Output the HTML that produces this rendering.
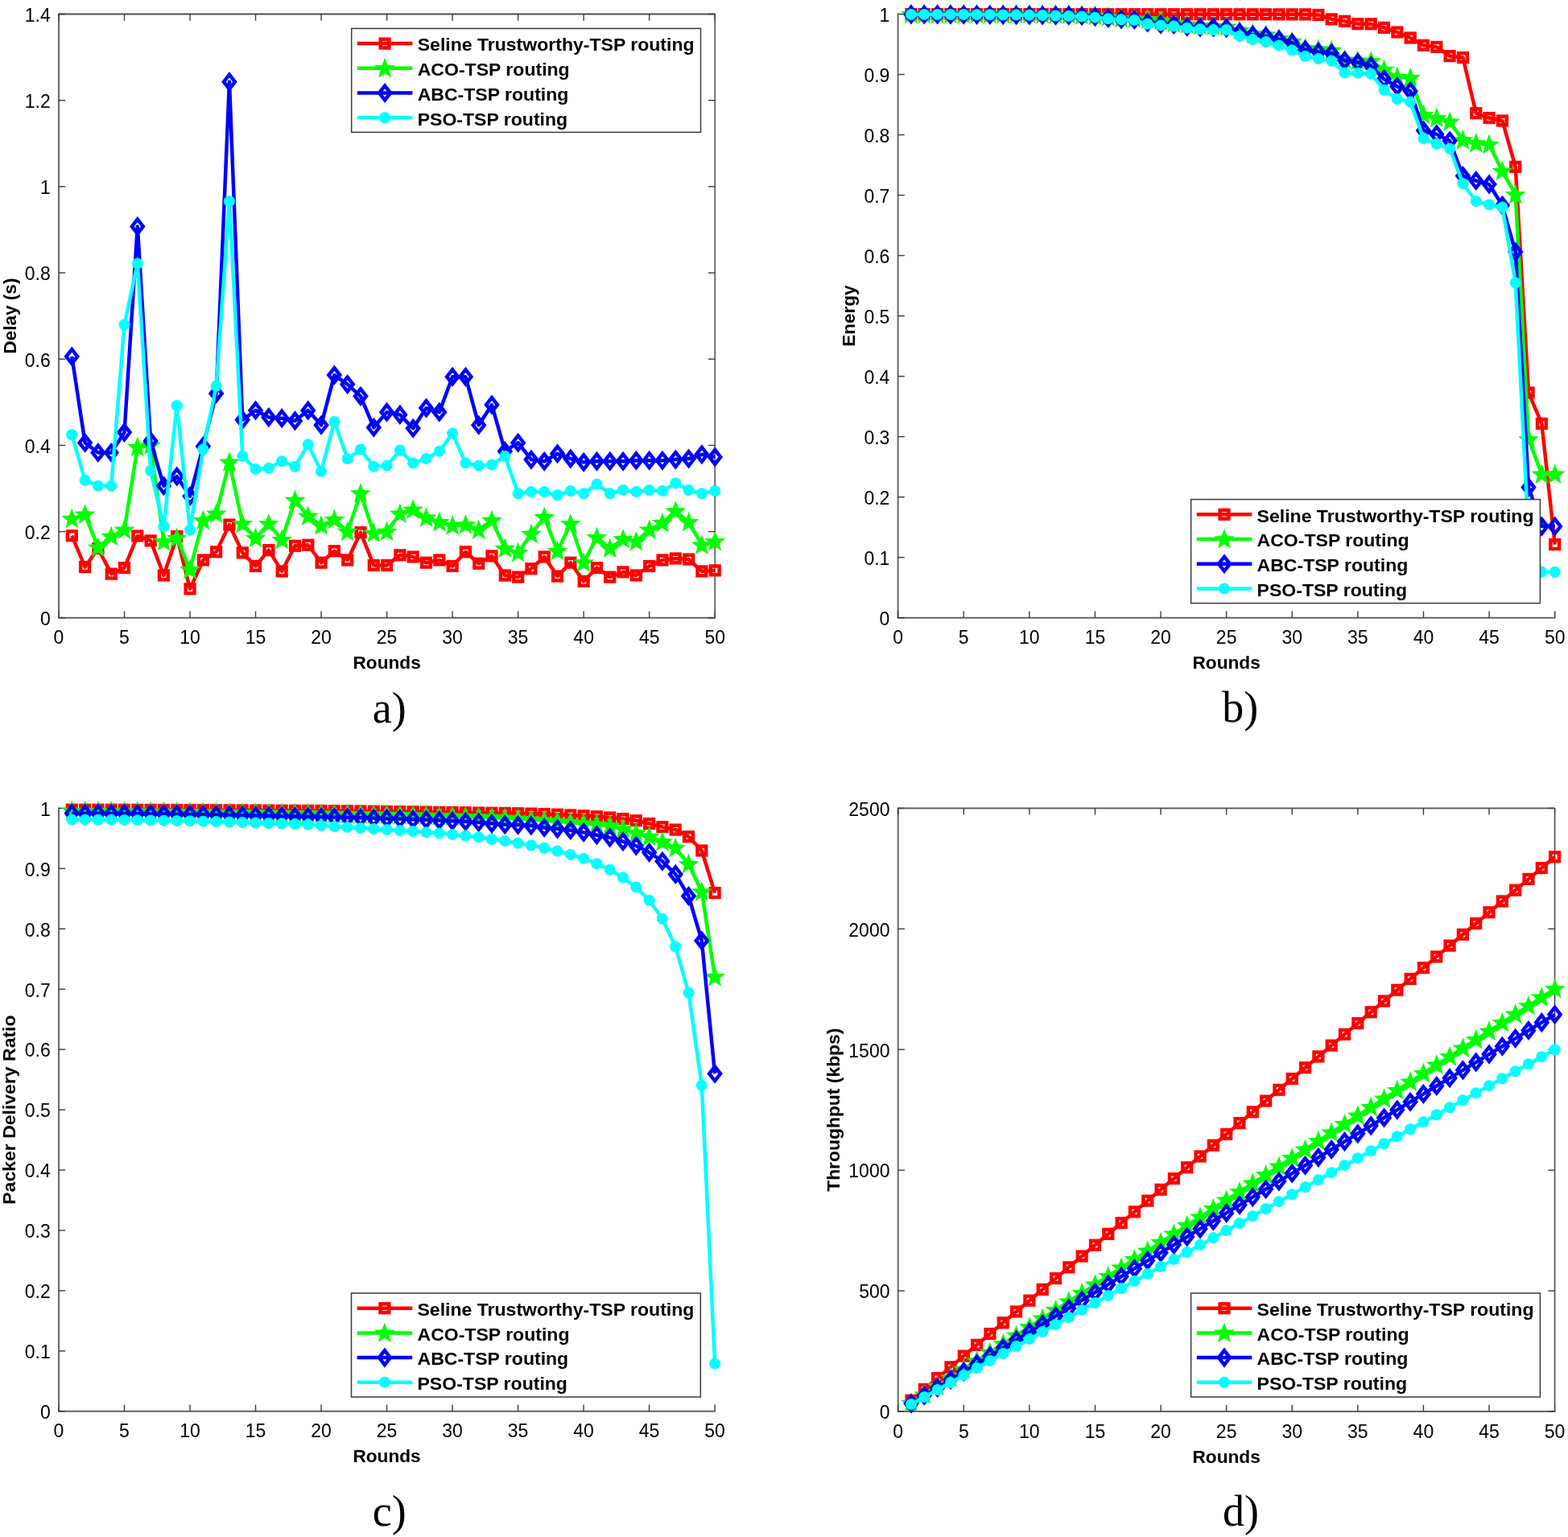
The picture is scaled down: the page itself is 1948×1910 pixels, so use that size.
<!DOCTYPE html>
<html><head><meta charset="utf-8"><title>Figure</title>
<style>
html,body{margin:0;padding:0;background:#fff;overflow:hidden;}
svg{display:block;}
.tk{font-family:"Liberation Sans",Arial,sans-serif;font-size:23px;fill:#000;}
.lb{font-family:"Liberation Sans",Arial,sans-serif;font-size:22px;font-weight:bold;fill:#000;}
.lg{font-family:"Liberation Sans",Arial,sans-serif;font-size:22px;font-weight:bold;fill:#000;}
.sub{font-family:"Liberation Serif","Times New Roman",serif;font-size:54px;fill:#000;}
</style></head><body>
<svg width="1948" height="1910" viewBox="0 0 1948 1910">
<rect width="1948" height="1910" fill="#fff"/>
<g id="pa"><path d="M73.0 16.6V767.8" fill="none" stroke="#666" stroke-width="2"/><path d="M72.0 767.8H888.9000000000001" fill="none" stroke="#626262" stroke-width="2"/><path d="M73.0 17.5H888.2" fill="none" stroke="#505050" stroke-width="1.8"/><path d="M888.2 17.5V767.8" fill="none" stroke="#333" stroke-width="1.3"/><path d="M73.00 767.8v-8.2" stroke="#3a3a3a" stroke-width="1.4"/><path d="M73.00 17.5v8.2" stroke="#3a3a3a" stroke-width="1.4"/><text x="73.00" y="800.40" class="tk" text-anchor="middle">0</text><path d="M154.52 767.8v-8.2" stroke="#3a3a3a" stroke-width="1.4"/><path d="M154.52 17.5v8.2" stroke="#3a3a3a" stroke-width="1.4"/><text x="154.52" y="800.40" class="tk" text-anchor="middle">5</text><path d="M236.04 767.8v-8.2" stroke="#3a3a3a" stroke-width="1.4"/><path d="M236.04 17.5v8.2" stroke="#3a3a3a" stroke-width="1.4"/><text x="236.04" y="800.40" class="tk" text-anchor="middle">10</text><path d="M317.56 767.8v-8.2" stroke="#3a3a3a" stroke-width="1.4"/><path d="M317.56 17.5v8.2" stroke="#3a3a3a" stroke-width="1.4"/><text x="317.56" y="800.40" class="tk" text-anchor="middle">15</text><path d="M399.08 767.8v-8.2" stroke="#3a3a3a" stroke-width="1.4"/><path d="M399.08 17.5v8.2" stroke="#3a3a3a" stroke-width="1.4"/><text x="399.08" y="800.40" class="tk" text-anchor="middle">20</text><path d="M480.60 767.8v-8.2" stroke="#3a3a3a" stroke-width="1.4"/><path d="M480.60 17.5v8.2" stroke="#3a3a3a" stroke-width="1.4"/><text x="480.60" y="800.40" class="tk" text-anchor="middle">25</text><path d="M562.12 767.8v-8.2" stroke="#3a3a3a" stroke-width="1.4"/><path d="M562.12 17.5v8.2" stroke="#3a3a3a" stroke-width="1.4"/><text x="562.12" y="800.40" class="tk" text-anchor="middle">30</text><path d="M643.64 767.8v-8.2" stroke="#3a3a3a" stroke-width="1.4"/><path d="M643.64 17.5v8.2" stroke="#3a3a3a" stroke-width="1.4"/><text x="643.64" y="800.40" class="tk" text-anchor="middle">35</text><path d="M725.16 767.8v-8.2" stroke="#3a3a3a" stroke-width="1.4"/><path d="M725.16 17.5v8.2" stroke="#3a3a3a" stroke-width="1.4"/><text x="725.16" y="800.40" class="tk" text-anchor="middle">40</text><path d="M806.68 767.8v-8.2" stroke="#3a3a3a" stroke-width="1.4"/><path d="M806.68 17.5v8.2" stroke="#3a3a3a" stroke-width="1.4"/><text x="806.68" y="800.40" class="tk" text-anchor="middle">45</text><path d="M888.20 767.8v-8.2" stroke="#3a3a3a" stroke-width="1.4"/><path d="M888.20 17.5v8.2" stroke="#3a3a3a" stroke-width="1.4"/><text x="888.20" y="800.40" class="tk" text-anchor="middle">50</text><path d="M73.0 767.80h8.2" stroke="#3a3a3a" stroke-width="1.4"/><path d="M888.2 767.80h-8.2" stroke="#3a3a3a" stroke-width="1.4"/><text x="62.80" y="777.10" class="tk" text-anchor="end">0</text><path d="M73.0 660.61h8.2" stroke="#3a3a3a" stroke-width="1.4"/><path d="M888.2 660.61h-8.2" stroke="#3a3a3a" stroke-width="1.4"/><text x="62.80" y="669.91" class="tk" text-anchor="end">0.2</text><path d="M73.0 553.43h8.2" stroke="#3a3a3a" stroke-width="1.4"/><path d="M888.2 553.43h-8.2" stroke="#3a3a3a" stroke-width="1.4"/><text x="62.80" y="562.73" class="tk" text-anchor="end">0.4</text><path d="M73.0 446.24h8.2" stroke="#3a3a3a" stroke-width="1.4"/><path d="M888.2 446.24h-8.2" stroke="#3a3a3a" stroke-width="1.4"/><text x="62.80" y="455.54" class="tk" text-anchor="end">0.6</text><path d="M73.0 339.06h8.2" stroke="#3a3a3a" stroke-width="1.4"/><path d="M888.2 339.06h-8.2" stroke="#3a3a3a" stroke-width="1.4"/><text x="62.80" y="348.36" class="tk" text-anchor="end">0.8</text><path d="M73.0 231.87h8.2" stroke="#3a3a3a" stroke-width="1.4"/><path d="M888.2 231.87h-8.2" stroke="#3a3a3a" stroke-width="1.4"/><text x="62.80" y="241.17" class="tk" text-anchor="end">1</text><path d="M73.0 124.69h8.2" stroke="#3a3a3a" stroke-width="1.4"/><path d="M888.2 124.69h-8.2" stroke="#3a3a3a" stroke-width="1.4"/><text x="62.80" y="133.99" class="tk" text-anchor="end">1.2</text><path d="M73.0 17.50h8.2" stroke="#3a3a3a" stroke-width="1.4"/><path d="M888.2 17.50h-8.2" stroke="#3a3a3a" stroke-width="1.4"/><text x="62.80" y="26.80" class="tk" text-anchor="end">1.4</text><text transform="translate(480.60 831.30) scale(1.03 1)" class="lb" text-anchor="middle">Rounds</text><text transform="translate(19.50 392.65)  rotate(-90) scale(1.028 1)" class="lb" text-anchor="middle">Delay (s)</text><text x="483.8" y="897.9" class="sub" text-anchor="middle">a)</text><path d="M89.30 665.71L105.61 704.56L121.91 681.52L138.22 713.14L154.52 705.63L170.82 665.97L187.13 671.87L203.43 715.01L219.74 666.51L236.04 731.89L252.34 695.99L268.65 685.80L284.95 652.04L301.26 686.87L317.56 703.49L333.86 683.66L350.17 709.92L366.47 678.30L382.78 677.23L399.08 699.20L415.38 684.73L431.69 695.99L447.99 661.69L464.30 702.42L480.60 702.42L496.90 689.82L513.21 691.97L529.51 699.20L545.82 695.99L562.12 703.49L578.42 685.80L594.73 700.27L611.03 690.89L627.34 715.01L643.64 717.10L659.94 706.70L676.25 691.97L692.55 716.08L708.86 699.20L725.16 722.41L741.46 705.63L757.77 717.10L774.07 710.83L790.38 715.01L806.68 703.49L822.98 695.99L839.29 694.00L855.59 695.07L871.90 709.92L888.20 708.85" fill="none" stroke="#ff0000" stroke-width="4.5" stroke-linejoin="round"/><rect x="83.95" y="660.36" width="10.70" height="10.70" fill="none" stroke="#ff0000" stroke-width="4.5"/><rect x="100.26" y="699.21" width="10.70" height="10.70" fill="none" stroke="#ff0000" stroke-width="4.5"/><rect x="116.56" y="676.17" width="10.70" height="10.70" fill="none" stroke="#ff0000" stroke-width="4.5"/><rect x="132.87" y="707.79" width="10.70" height="10.70" fill="none" stroke="#ff0000" stroke-width="4.5"/><rect x="149.17" y="700.28" width="10.70" height="10.70" fill="none" stroke="#ff0000" stroke-width="4.5"/><rect x="165.47" y="660.62" width="10.70" height="10.70" fill="none" stroke="#ff0000" stroke-width="4.5"/><rect x="181.78" y="666.52" width="10.70" height="10.70" fill="none" stroke="#ff0000" stroke-width="4.5"/><rect x="198.08" y="709.66" width="10.70" height="10.70" fill="none" stroke="#ff0000" stroke-width="4.5"/><rect x="214.39" y="661.16" width="10.70" height="10.70" fill="none" stroke="#ff0000" stroke-width="4.5"/><rect x="230.69" y="726.54" width="10.70" height="10.70" fill="none" stroke="#ff0000" stroke-width="4.5"/><rect x="246.99" y="690.64" width="10.70" height="10.70" fill="none" stroke="#ff0000" stroke-width="4.5"/><rect x="263.30" y="680.45" width="10.70" height="10.70" fill="none" stroke="#ff0000" stroke-width="4.5"/><rect x="279.60" y="646.69" width="10.70" height="10.70" fill="none" stroke="#ff0000" stroke-width="4.5"/><rect x="295.91" y="681.52" width="10.70" height="10.70" fill="none" stroke="#ff0000" stroke-width="4.5"/><rect x="312.21" y="698.14" width="10.70" height="10.70" fill="none" stroke="#ff0000" stroke-width="4.5"/><rect x="328.51" y="678.31" width="10.70" height="10.70" fill="none" stroke="#ff0000" stroke-width="4.5"/><rect x="344.82" y="704.57" width="10.70" height="10.70" fill="none" stroke="#ff0000" stroke-width="4.5"/><rect x="361.12" y="672.95" width="10.70" height="10.70" fill="none" stroke="#ff0000" stroke-width="4.5"/><rect x="377.43" y="671.88" width="10.70" height="10.70" fill="none" stroke="#ff0000" stroke-width="4.5"/><rect x="393.73" y="693.85" width="10.70" height="10.70" fill="none" stroke="#ff0000" stroke-width="4.5"/><rect x="410.03" y="679.38" width="10.70" height="10.70" fill="none" stroke="#ff0000" stroke-width="4.5"/><rect x="426.34" y="690.64" width="10.70" height="10.70" fill="none" stroke="#ff0000" stroke-width="4.5"/><rect x="442.64" y="656.34" width="10.70" height="10.70" fill="none" stroke="#ff0000" stroke-width="4.5"/><rect x="458.95" y="697.07" width="10.70" height="10.70" fill="none" stroke="#ff0000" stroke-width="4.5"/><rect x="475.25" y="697.07" width="10.70" height="10.70" fill="none" stroke="#ff0000" stroke-width="4.5"/><rect x="491.55" y="684.47" width="10.70" height="10.70" fill="none" stroke="#ff0000" stroke-width="4.5"/><rect x="507.86" y="686.62" width="10.70" height="10.70" fill="none" stroke="#ff0000" stroke-width="4.5"/><rect x="524.16" y="693.85" width="10.70" height="10.70" fill="none" stroke="#ff0000" stroke-width="4.5"/><rect x="540.47" y="690.64" width="10.70" height="10.70" fill="none" stroke="#ff0000" stroke-width="4.5"/><rect x="556.77" y="698.14" width="10.70" height="10.70" fill="none" stroke="#ff0000" stroke-width="4.5"/><rect x="573.07" y="680.45" width="10.70" height="10.70" fill="none" stroke="#ff0000" stroke-width="4.5"/><rect x="589.38" y="694.92" width="10.70" height="10.70" fill="none" stroke="#ff0000" stroke-width="4.5"/><rect x="605.68" y="685.54" width="10.70" height="10.70" fill="none" stroke="#ff0000" stroke-width="4.5"/><rect x="621.99" y="709.66" width="10.70" height="10.70" fill="none" stroke="#ff0000" stroke-width="4.5"/><rect x="638.29" y="711.75" width="10.70" height="10.70" fill="none" stroke="#ff0000" stroke-width="4.5"/><rect x="654.59" y="701.35" width="10.70" height="10.70" fill="none" stroke="#ff0000" stroke-width="4.5"/><rect x="670.90" y="686.62" width="10.70" height="10.70" fill="none" stroke="#ff0000" stroke-width="4.5"/><rect x="687.20" y="710.73" width="10.70" height="10.70" fill="none" stroke="#ff0000" stroke-width="4.5"/><rect x="703.51" y="693.85" width="10.70" height="10.70" fill="none" stroke="#ff0000" stroke-width="4.5"/><rect x="719.81" y="717.06" width="10.70" height="10.70" fill="none" stroke="#ff0000" stroke-width="4.5"/><rect x="736.11" y="700.28" width="10.70" height="10.70" fill="none" stroke="#ff0000" stroke-width="4.5"/><rect x="752.42" y="711.75" width="10.70" height="10.70" fill="none" stroke="#ff0000" stroke-width="4.5"/><rect x="768.72" y="705.48" width="10.70" height="10.70" fill="none" stroke="#ff0000" stroke-width="4.5"/><rect x="785.03" y="709.66" width="10.70" height="10.70" fill="none" stroke="#ff0000" stroke-width="4.5"/><rect x="801.33" y="698.14" width="10.70" height="10.70" fill="none" stroke="#ff0000" stroke-width="4.5"/><rect x="817.63" y="690.64" width="10.70" height="10.70" fill="none" stroke="#ff0000" stroke-width="4.5"/><rect x="833.94" y="688.65" width="10.70" height="10.70" fill="none" stroke="#ff0000" stroke-width="4.5"/><rect x="850.24" y="689.72" width="10.70" height="10.70" fill="none" stroke="#ff0000" stroke-width="4.5"/><rect x="866.55" y="704.57" width="10.70" height="10.70" fill="none" stroke="#ff0000" stroke-width="4.5"/><rect x="882.85" y="703.50" width="10.70" height="10.70" fill="none" stroke="#ff0000" stroke-width="4.5"/><path d="M89.30 644.70L105.61 639.39L121.91 680.44L138.22 666.51L154.52 658.47L170.82 555.57L187.13 553.43L203.43 672.94L219.74 668.65L236.04 707.78L252.34 646.68L268.65 638.37L284.95 574.33L301.26 650.97L317.56 668.65L333.86 650.97L350.17 670.80L366.47 621.49L382.78 641.32L399.08 653.11L415.38 645.61L431.69 660.61L447.99 613.18L464.30 662.49L480.60 660.61L496.90 638.37L513.21 633.28L529.51 643.46L545.82 648.82L562.12 653.11L578.42 652.04L594.73 658.47L611.03 646.68L627.34 681.52L643.64 686.87L659.94 663.56L676.25 642.61L692.55 684.73L708.86 650.97L725.16 699.20L741.46 667.80L757.77 681.52L774.07 669.89L790.38 672.94L806.68 658.47L822.98 649.90L839.29 635.21L855.59 648.82L871.90 677.23L888.20 672.94" fill="none" stroke="#00ff00" stroke-width="4.5" stroke-linejoin="round"/><path d="M89.30 631.70L92.71 640.60L102.24 641.09L94.82 647.09L97.30 656.30L89.30 651.10L81.31 656.30L83.79 647.09L76.37 641.09L85.89 640.60Z" fill="#00ff00"/><path d="M105.61 626.39L109.02 635.30L118.54 635.79L111.12 641.78L113.60 650.99L105.61 645.79L97.61 650.99L100.09 641.78L92.67 635.79L102.20 635.30Z" fill="#00ff00"/><path d="M121.91 667.44L125.32 676.35L134.85 676.84L127.43 682.84L129.91 692.05L121.91 686.84L113.92 692.05L116.40 682.84L108.98 676.84L118.50 676.35Z" fill="#00ff00"/><path d="M138.22 653.51L141.63 662.42L151.15 662.91L143.73 668.90L146.21 678.11L138.22 672.91L130.22 678.11L132.70 668.90L125.28 662.91L134.81 662.42Z" fill="#00ff00"/><path d="M154.52 645.47L157.93 654.38L167.45 654.87L160.04 660.86L162.51 670.07L154.52 664.87L146.53 670.07L149.00 660.86L141.59 654.87L151.11 654.38Z" fill="#00ff00"/><path d="M170.82 542.57L174.23 551.48L183.76 551.97L176.34 557.96L178.82 567.17L170.82 561.97L162.83 567.17L165.31 557.96L157.89 551.97L167.41 551.48Z" fill="#00ff00"/><path d="M187.13 540.43L190.54 549.34L200.06 549.83L192.64 555.82L195.12 565.03L187.13 559.83L179.13 565.03L181.61 555.82L174.19 549.83L183.72 549.34Z" fill="#00ff00"/><path d="M203.43 659.94L206.84 668.85L216.37 669.34L208.95 675.33L211.43 684.54L203.43 679.34L195.44 684.54L197.92 675.33L190.50 669.34L200.02 668.85Z" fill="#00ff00"/><path d="M219.74 655.65L223.15 664.56L232.67 665.05L225.25 671.05L227.73 680.26L219.74 675.05L211.74 680.26L214.22 671.05L206.80 665.05L216.33 664.56Z" fill="#00ff00"/><path d="M236.04 694.78L239.45 703.68L248.97 704.17L241.56 710.17L244.03 719.38L236.04 714.18L228.05 719.38L230.52 710.17L223.11 704.17L232.63 703.68Z" fill="#00ff00"/><path d="M252.34 633.68L255.75 642.59L265.28 643.08L257.86 649.07L260.34 658.28L252.34 653.08L244.35 658.28L246.83 649.07L239.41 643.08L248.93 642.59Z" fill="#00ff00"/><path d="M268.65 625.37L272.06 634.28L281.58 634.77L274.16 640.77L276.64 649.98L268.65 644.77L260.65 649.98L263.13 640.77L255.71 634.77L265.24 634.28Z" fill="#00ff00"/><path d="M284.95 561.33L288.36 570.24L297.89 570.73L290.47 576.72L292.95 585.93L284.95 580.73L276.96 585.93L279.44 576.72L272.02 570.73L281.54 570.24Z" fill="#00ff00"/><path d="M301.26 637.97L304.67 646.88L314.19 647.36L306.77 653.36L309.25 662.57L301.26 657.37L293.26 662.57L295.74 653.36L288.32 647.36L297.85 646.88Z" fill="#00ff00"/><path d="M317.56 655.65L320.97 664.56L330.49 665.05L323.08 671.05L325.55 680.26L317.56 675.05L309.57 680.26L312.04 671.05L304.63 665.05L314.15 664.56Z" fill="#00ff00"/><path d="M333.86 637.97L337.27 646.88L346.80 647.36L339.38 653.36L341.86 662.57L333.86 657.37L325.87 662.57L328.35 653.36L320.93 647.36L330.45 646.88Z" fill="#00ff00"/><path d="M350.17 657.80L353.58 666.70L363.10 667.19L355.68 673.19L358.16 682.40L350.17 677.20L342.17 682.40L344.65 673.19L337.23 667.19L346.76 666.70Z" fill="#00ff00"/><path d="M366.47 608.49L369.88 617.40L379.41 617.89L371.99 623.88L374.47 633.09L366.47 627.89L358.48 633.09L360.96 623.88L353.54 617.89L363.06 617.40Z" fill="#00ff00"/><path d="M382.78 628.32L386.19 637.23L395.71 637.72L388.29 643.71L390.77 652.92L382.78 647.72L374.78 652.92L377.26 643.71L369.84 637.72L379.37 637.23Z" fill="#00ff00"/><path d="M399.08 640.11L402.49 649.02L412.01 649.51L404.60 655.50L407.07 664.71L399.08 659.51L391.09 664.71L393.56 655.50L386.15 649.51L395.67 649.02Z" fill="#00ff00"/><path d="M415.38 632.61L418.79 641.52L428.32 642.01L420.90 648.00L423.38 657.21L415.38 652.01L407.39 657.21L409.87 648.00L402.45 642.01L411.97 641.52Z" fill="#00ff00"/><path d="M431.69 647.61L435.10 656.52L444.62 657.01L437.20 663.01L439.68 672.22L431.69 667.01L423.69 672.22L426.17 663.01L418.75 657.01L428.28 656.52Z" fill="#00ff00"/><path d="M447.99 600.18L451.40 609.09L460.93 609.58L453.51 615.58L455.99 624.79L447.99 619.58L440.00 624.79L442.48 615.58L435.06 609.58L444.58 609.09Z" fill="#00ff00"/><path d="M464.30 649.49L467.71 658.40L477.23 658.89L469.81 664.88L472.29 674.09L464.30 668.89L456.30 674.09L458.78 664.88L451.36 658.89L460.89 658.40Z" fill="#00ff00"/><path d="M480.60 647.61L484.01 656.52L493.53 657.01L486.12 663.01L488.59 672.22L480.60 667.01L472.61 672.22L475.08 663.01L467.67 657.01L477.19 656.52Z" fill="#00ff00"/><path d="M496.90 625.37L500.31 634.28L509.84 634.77L502.42 640.77L504.90 649.98L496.90 644.77L488.91 649.98L491.39 640.77L483.97 634.77L493.49 634.28Z" fill="#00ff00"/><path d="M513.21 620.28L516.62 629.19L526.14 629.68L518.72 635.67L521.20 644.88L513.21 639.68L505.21 644.88L507.69 635.67L500.27 629.68L509.80 629.19Z" fill="#00ff00"/><path d="M529.51 630.46L532.92 639.37L542.45 639.86L535.03 645.86L537.51 655.07L529.51 649.86L521.52 655.07L524.00 645.86L516.58 639.86L526.10 639.37Z" fill="#00ff00"/><path d="M545.82 635.82L549.23 644.73L558.75 645.22L551.33 651.22L553.81 660.43L545.82 655.22L537.82 660.43L540.30 651.22L532.88 645.22L542.41 644.73Z" fill="#00ff00"/><path d="M562.12 640.11L565.53 649.02L575.05 649.51L567.64 655.50L570.11 664.71L562.12 659.51L554.13 664.71L556.60 655.50L549.19 649.51L558.71 649.02Z" fill="#00ff00"/><path d="M578.42 639.04L581.83 647.95L591.36 648.44L583.94 654.43L586.42 663.64L578.42 658.44L570.43 663.64L572.91 654.43L565.49 648.44L575.01 647.95Z" fill="#00ff00"/><path d="M594.73 645.47L598.14 654.38L607.66 654.87L600.24 660.86L602.72 670.07L594.73 664.87L586.73 670.07L589.21 660.86L581.79 654.87L591.32 654.38Z" fill="#00ff00"/><path d="M611.03 633.68L614.44 642.59L623.97 643.08L616.55 649.07L619.03 658.28L611.03 653.08L603.04 658.28L605.52 649.07L598.10 643.08L607.62 642.59Z" fill="#00ff00"/><path d="M627.34 668.52L630.75 677.42L640.27 677.91L632.85 683.91L635.33 693.12L627.34 687.92L619.34 693.12L621.82 683.91L614.40 677.91L623.93 677.42Z" fill="#00ff00"/><path d="M643.64 673.87L647.05 682.78L656.57 683.27L649.16 689.27L651.63 698.48L643.64 693.27L635.65 698.48L638.12 689.27L630.71 683.27L640.23 682.78Z" fill="#00ff00"/><path d="M659.94 650.56L663.35 659.47L672.88 659.96L665.46 665.95L667.94 675.16L659.94 669.96L651.95 675.16L654.43 665.95L647.01 659.96L656.53 659.47Z" fill="#00ff00"/><path d="M676.25 629.61L679.66 638.51L689.18 639.00L681.76 645.00L684.24 654.21L676.25 649.01L668.25 654.21L670.73 645.00L663.31 639.00L672.84 638.51Z" fill="#00ff00"/><path d="M692.55 671.73L695.96 680.64L705.49 681.13L698.07 687.12L700.55 696.33L692.55 691.13L684.56 696.33L687.04 687.12L679.62 681.13L689.14 680.64Z" fill="#00ff00"/><path d="M708.86 637.97L712.27 646.88L721.79 647.36L714.37 653.36L716.85 662.57L708.86 657.37L700.86 662.57L703.34 653.36L695.92 647.36L705.45 646.88Z" fill="#00ff00"/><path d="M725.16 686.20L728.57 695.11L738.09 695.60L730.68 701.59L733.15 710.80L725.16 705.60L717.17 710.80L719.64 701.59L712.23 695.60L721.75 695.11Z" fill="#00ff00"/><path d="M741.46 654.80L744.87 663.70L754.40 664.19L746.98 670.19L749.46 679.40L741.46 674.20L733.47 679.40L735.95 670.19L728.53 664.19L738.05 663.70Z" fill="#00ff00"/><path d="M757.77 668.52L761.18 677.42L770.70 677.91L763.28 683.91L765.76 693.12L757.77 687.92L749.77 693.12L752.25 683.91L744.83 677.91L754.36 677.42Z" fill="#00ff00"/><path d="M774.07 656.89L777.48 665.79L787.01 666.28L779.59 672.28L782.07 681.49L774.07 676.29L766.08 681.49L768.56 672.28L761.14 666.28L770.66 665.79Z" fill="#00ff00"/><path d="M790.38 659.94L793.79 668.85L803.31 669.34L795.89 675.33L798.37 684.54L790.38 679.34L782.38 684.54L784.86 675.33L777.44 669.34L786.97 668.85Z" fill="#00ff00"/><path d="M806.68 645.47L810.09 654.38L819.61 654.87L812.20 660.86L814.67 670.07L806.68 664.87L798.69 670.07L801.16 660.86L793.75 654.87L803.27 654.38Z" fill="#00ff00"/><path d="M822.98 636.90L826.39 645.80L835.92 646.29L828.50 652.29L830.98 661.50L822.98 656.30L814.99 661.50L817.47 652.29L810.05 646.29L819.57 645.80Z" fill="#00ff00"/><path d="M839.29 622.21L842.70 631.12L852.22 631.61L844.80 637.60L847.28 646.81L839.29 641.61L831.29 646.81L833.77 637.60L826.35 631.61L835.88 631.12Z" fill="#00ff00"/><path d="M855.59 635.82L859.00 644.73L868.53 645.22L861.11 651.22L863.59 660.43L855.59 655.22L847.60 660.43L850.08 651.22L842.66 645.22L852.18 644.73Z" fill="#00ff00"/><path d="M871.90 664.23L875.31 673.14L884.83 673.63L877.41 679.62L879.89 688.83L871.90 683.63L863.90 688.83L866.38 679.62L858.96 673.63L868.49 673.14Z" fill="#00ff00"/><path d="M888.20 659.94L891.61 668.85L901.13 669.34L893.72 675.33L896.19 684.54L888.20 679.34L880.21 684.54L882.68 675.33L875.27 669.34L884.79 668.85Z" fill="#00ff00"/><path d="M89.30 443.03L105.61 550.21L121.91 562.54L138.22 562.54L154.52 537.35L170.82 281.39L187.13 548.07L203.43 603.81L219.74 592.02L236.04 616.67L252.34 554.50L268.65 489.12L284.95 101.64L301.26 521.81L317.56 510.02L333.86 518.59L350.17 519.67L366.47 522.88L382.78 510.02L399.08 528.24L415.38 466.07L431.69 477.59L447.99 492.33L464.30 531.19L480.60 512.16L496.90 515.38L513.21 532.26L529.51 507.07L545.82 512.16L562.12 468.22L578.42 468.22L594.73 528.24L611.03 503.05L627.34 560.66L643.64 550.21L659.94 571.11L676.25 573.26L692.55 563.77L708.86 570.04L725.16 574.33L741.46 573.26L757.77 573.26L774.07 573.26L790.38 572.19L806.68 572.19L822.98 572.19L839.29 571.11L855.59 570.04L871.90 564.79L888.20 567.90" fill="none" stroke="#0000ff" stroke-width="4.5" stroke-linejoin="round"/><path d="M89.30 434.13L96.25 443.03L89.30 451.93L82.35 443.03Z" fill="none" stroke="#0000ff" stroke-width="4.5" stroke-miterlimit="10"/><path d="M105.61 541.31L112.56 550.21L105.61 559.11L98.66 550.21Z" fill="none" stroke="#0000ff" stroke-width="4.5" stroke-miterlimit="10"/><path d="M121.91 553.64L128.86 562.54L121.91 571.44L114.96 562.54Z" fill="none" stroke="#0000ff" stroke-width="4.5" stroke-miterlimit="10"/><path d="M138.22 553.64L145.17 562.54L138.22 571.44L131.27 562.54Z" fill="none" stroke="#0000ff" stroke-width="4.5" stroke-miterlimit="10"/><path d="M154.52 528.45L161.47 537.35L154.52 546.25L147.57 537.35Z" fill="none" stroke="#0000ff" stroke-width="4.5" stroke-miterlimit="10"/><path d="M170.82 272.49L177.77 281.39L170.82 290.29L163.87 281.39Z" fill="none" stroke="#0000ff" stroke-width="4.5" stroke-miterlimit="10"/><path d="M187.13 539.17L194.08 548.07L187.13 556.97L180.18 548.07Z" fill="none" stroke="#0000ff" stroke-width="4.5" stroke-miterlimit="10"/><path d="M203.43 594.91L210.38 603.81L203.43 612.71L196.48 603.81Z" fill="none" stroke="#0000ff" stroke-width="4.5" stroke-miterlimit="10"/><path d="M219.74 583.12L226.69 592.02L219.74 600.92L212.79 592.02Z" fill="none" stroke="#0000ff" stroke-width="4.5" stroke-miterlimit="10"/><path d="M236.04 607.77L242.99 616.67L236.04 625.57L229.09 616.67Z" fill="none" stroke="#0000ff" stroke-width="4.5" stroke-miterlimit="10"/><path d="M252.34 545.60L259.29 554.50L252.34 563.40L245.39 554.50Z" fill="none" stroke="#0000ff" stroke-width="4.5" stroke-miterlimit="10"/><path d="M268.65 480.22L275.60 489.12L268.65 498.02L261.70 489.12Z" fill="none" stroke="#0000ff" stroke-width="4.5" stroke-miterlimit="10"/><path d="M284.95 92.74L291.90 101.64L284.95 110.54L278.00 101.64Z" fill="none" stroke="#0000ff" stroke-width="4.5" stroke-miterlimit="10"/><path d="M301.26 512.91L308.21 521.81L301.26 530.71L294.31 521.81Z" fill="none" stroke="#0000ff" stroke-width="4.5" stroke-miterlimit="10"/><path d="M317.56 501.12L324.51 510.02L317.56 518.92L310.61 510.02Z" fill="none" stroke="#0000ff" stroke-width="4.5" stroke-miterlimit="10"/><path d="M333.86 509.69L340.81 518.59L333.86 527.49L326.91 518.59Z" fill="none" stroke="#0000ff" stroke-width="4.5" stroke-miterlimit="10"/><path d="M350.17 510.77L357.12 519.67L350.17 528.57L343.22 519.67Z" fill="none" stroke="#0000ff" stroke-width="4.5" stroke-miterlimit="10"/><path d="M366.47 513.98L373.42 522.88L366.47 531.78L359.52 522.88Z" fill="none" stroke="#0000ff" stroke-width="4.5" stroke-miterlimit="10"/><path d="M382.78 501.12L389.73 510.02L382.78 518.92L375.83 510.02Z" fill="none" stroke="#0000ff" stroke-width="4.5" stroke-miterlimit="10"/><path d="M399.08 519.34L406.03 528.24L399.08 537.14L392.13 528.24Z" fill="none" stroke="#0000ff" stroke-width="4.5" stroke-miterlimit="10"/><path d="M415.38 457.17L422.33 466.07L415.38 474.97L408.43 466.07Z" fill="none" stroke="#0000ff" stroke-width="4.5" stroke-miterlimit="10"/><path d="M431.69 468.69L438.64 477.59L431.69 486.49L424.74 477.59Z" fill="none" stroke="#0000ff" stroke-width="4.5" stroke-miterlimit="10"/><path d="M447.99 483.43L454.94 492.33L447.99 501.23L441.04 492.33Z" fill="none" stroke="#0000ff" stroke-width="4.5" stroke-miterlimit="10"/><path d="M464.30 522.29L471.25 531.19L464.30 540.09L457.35 531.19Z" fill="none" stroke="#0000ff" stroke-width="4.5" stroke-miterlimit="10"/><path d="M480.60 503.26L487.55 512.16L480.60 521.06L473.65 512.16Z" fill="none" stroke="#0000ff" stroke-width="4.5" stroke-miterlimit="10"/><path d="M496.90 506.48L503.85 515.38L496.90 524.28L489.95 515.38Z" fill="none" stroke="#0000ff" stroke-width="4.5" stroke-miterlimit="10"/><path d="M513.21 523.36L520.16 532.26L513.21 541.16L506.26 532.26Z" fill="none" stroke="#0000ff" stroke-width="4.5" stroke-miterlimit="10"/><path d="M529.51 498.17L536.46 507.07L529.51 515.97L522.56 507.07Z" fill="none" stroke="#0000ff" stroke-width="4.5" stroke-miterlimit="10"/><path d="M545.82 503.26L552.77 512.16L545.82 521.06L538.87 512.16Z" fill="none" stroke="#0000ff" stroke-width="4.5" stroke-miterlimit="10"/><path d="M562.12 459.32L569.07 468.22L562.12 477.12L555.17 468.22Z" fill="none" stroke="#0000ff" stroke-width="4.5" stroke-miterlimit="10"/><path d="M578.42 459.32L585.37 468.22L578.42 477.12L571.47 468.22Z" fill="none" stroke="#0000ff" stroke-width="4.5" stroke-miterlimit="10"/><path d="M594.73 519.34L601.68 528.24L594.73 537.14L587.78 528.24Z" fill="none" stroke="#0000ff" stroke-width="4.5" stroke-miterlimit="10"/><path d="M611.03 494.15L617.98 503.05L611.03 511.95L604.08 503.05Z" fill="none" stroke="#0000ff" stroke-width="4.5" stroke-miterlimit="10"/><path d="M627.34 551.76L634.29 560.66L627.34 569.56L620.39 560.66Z" fill="none" stroke="#0000ff" stroke-width="4.5" stroke-miterlimit="10"/><path d="M643.64 541.31L650.59 550.21L643.64 559.11L636.69 550.21Z" fill="none" stroke="#0000ff" stroke-width="4.5" stroke-miterlimit="10"/><path d="M659.94 562.21L666.89 571.11L659.94 580.01L652.99 571.11Z" fill="none" stroke="#0000ff" stroke-width="4.5" stroke-miterlimit="10"/><path d="M676.25 564.36L683.20 573.26L676.25 582.16L669.30 573.26Z" fill="none" stroke="#0000ff" stroke-width="4.5" stroke-miterlimit="10"/><path d="M692.55 554.87L699.50 563.77L692.55 572.67L685.60 563.77Z" fill="none" stroke="#0000ff" stroke-width="4.5" stroke-miterlimit="10"/><path d="M708.86 561.14L715.81 570.04L708.86 578.94L701.91 570.04Z" fill="none" stroke="#0000ff" stroke-width="4.5" stroke-miterlimit="10"/><path d="M725.16 565.43L732.11 574.33L725.16 583.23L718.21 574.33Z" fill="none" stroke="#0000ff" stroke-width="4.5" stroke-miterlimit="10"/><path d="M741.46 564.36L748.41 573.26L741.46 582.16L734.51 573.26Z" fill="none" stroke="#0000ff" stroke-width="4.5" stroke-miterlimit="10"/><path d="M757.77 564.36L764.72 573.26L757.77 582.16L750.82 573.26Z" fill="none" stroke="#0000ff" stroke-width="4.5" stroke-miterlimit="10"/><path d="M774.07 564.36L781.02 573.26L774.07 582.16L767.12 573.26Z" fill="none" stroke="#0000ff" stroke-width="4.5" stroke-miterlimit="10"/><path d="M790.38 563.29L797.33 572.19L790.38 581.09L783.43 572.19Z" fill="none" stroke="#0000ff" stroke-width="4.5" stroke-miterlimit="10"/><path d="M806.68 563.29L813.63 572.19L806.68 581.09L799.73 572.19Z" fill="none" stroke="#0000ff" stroke-width="4.5" stroke-miterlimit="10"/><path d="M822.98 563.29L829.93 572.19L822.98 581.09L816.03 572.19Z" fill="none" stroke="#0000ff" stroke-width="4.5" stroke-miterlimit="10"/><path d="M839.29 562.21L846.24 571.11L839.29 580.01L832.34 571.11Z" fill="none" stroke="#0000ff" stroke-width="4.5" stroke-miterlimit="10"/><path d="M855.59 561.14L862.54 570.04L855.59 578.94L848.64 570.04Z" fill="none" stroke="#0000ff" stroke-width="4.5" stroke-miterlimit="10"/><path d="M871.90 555.89L878.85 564.79L871.90 573.69L864.95 564.79Z" fill="none" stroke="#0000ff" stroke-width="4.5" stroke-miterlimit="10"/><path d="M888.20 559.00L895.15 567.90L888.20 576.80L881.25 567.90Z" fill="none" stroke="#0000ff" stroke-width="4.5" stroke-miterlimit="10"/><path d="M89.30 540.30L105.61 596.84L121.91 603.81L138.22 603.81L154.52 403.37L170.82 327.48L187.13 585.05L203.43 654.18L219.74 504.12L236.04 658.47L252.34 558.52L268.65 479.74L284.95 250.31L301.26 566.83L317.56 582.90L333.86 581.83L350.17 573.26L366.47 579.69L382.78 552.36L399.08 585.85L415.38 523.95L431.69 570.04L447.99 558.52L464.30 579.69L480.60 578.62L496.90 559.59L513.21 575.40L529.51 570.04L545.82 560.66L562.12 538.58L578.42 575.40L594.73 578.62L611.03 577.55L627.34 566.83L643.64 613.18L659.94 611.09L676.25 611.09L692.55 615.27L708.86 610.02L725.16 613.18L741.46 601.66L757.77 613.18L774.07 609.00L790.38 611.09L806.68 609.00L822.98 610.02L839.29 600.48L855.59 609.00L871.90 613.18L888.20 610.02" fill="none" stroke="#00ffff" stroke-width="4.5" stroke-linejoin="round"/><circle cx="89.30" cy="540.30" r="7" fill="#00ffff"/><circle cx="105.61" cy="596.84" r="7" fill="#00ffff"/><circle cx="121.91" cy="603.81" r="7" fill="#00ffff"/><circle cx="138.22" cy="603.81" r="7" fill="#00ffff"/><circle cx="154.52" cy="403.37" r="7" fill="#00ffff"/><circle cx="170.82" cy="327.48" r="7" fill="#00ffff"/><circle cx="187.13" cy="585.05" r="7" fill="#00ffff"/><circle cx="203.43" cy="654.18" r="7" fill="#00ffff"/><circle cx="219.74" cy="504.12" r="7" fill="#00ffff"/><circle cx="236.04" cy="658.47" r="7" fill="#00ffff"/><circle cx="252.34" cy="558.52" r="7" fill="#00ffff"/><circle cx="268.65" cy="479.74" r="7" fill="#00ffff"/><circle cx="284.95" cy="250.31" r="7" fill="#00ffff"/><circle cx="301.26" cy="566.83" r="7" fill="#00ffff"/><circle cx="317.56" cy="582.90" r="7" fill="#00ffff"/><circle cx="333.86" cy="581.83" r="7" fill="#00ffff"/><circle cx="350.17" cy="573.26" r="7" fill="#00ffff"/><circle cx="366.47" cy="579.69" r="7" fill="#00ffff"/><circle cx="382.78" cy="552.36" r="7" fill="#00ffff"/><circle cx="399.08" cy="585.85" r="7" fill="#00ffff"/><circle cx="415.38" cy="523.95" r="7" fill="#00ffff"/><circle cx="431.69" cy="570.04" r="7" fill="#00ffff"/><circle cx="447.99" cy="558.52" r="7" fill="#00ffff"/><circle cx="464.30" cy="579.69" r="7" fill="#00ffff"/><circle cx="480.60" cy="578.62" r="7" fill="#00ffff"/><circle cx="496.90" cy="559.59" r="7" fill="#00ffff"/><circle cx="513.21" cy="575.40" r="7" fill="#00ffff"/><circle cx="529.51" cy="570.04" r="7" fill="#00ffff"/><circle cx="545.82" cy="560.66" r="7" fill="#00ffff"/><circle cx="562.12" cy="538.58" r="7" fill="#00ffff"/><circle cx="578.42" cy="575.40" r="7" fill="#00ffff"/><circle cx="594.73" cy="578.62" r="7" fill="#00ffff"/><circle cx="611.03" cy="577.55" r="7" fill="#00ffff"/><circle cx="627.34" cy="566.83" r="7" fill="#00ffff"/><circle cx="643.64" cy="613.18" r="7" fill="#00ffff"/><circle cx="659.94" cy="611.09" r="7" fill="#00ffff"/><circle cx="676.25" cy="611.09" r="7" fill="#00ffff"/><circle cx="692.55" cy="615.27" r="7" fill="#00ffff"/><circle cx="708.86" cy="610.02" r="7" fill="#00ffff"/><circle cx="725.16" cy="613.18" r="7" fill="#00ffff"/><circle cx="741.46" cy="601.66" r="7" fill="#00ffff"/><circle cx="757.77" cy="613.18" r="7" fill="#00ffff"/><circle cx="774.07" cy="609.00" r="7" fill="#00ffff"/><circle cx="790.38" cy="611.09" r="7" fill="#00ffff"/><circle cx="806.68" cy="609.00" r="7" fill="#00ffff"/><circle cx="822.98" cy="610.02" r="7" fill="#00ffff"/><circle cx="839.29" cy="600.48" r="7" fill="#00ffff"/><circle cx="855.59" cy="609.00" r="7" fill="#00ffff"/><circle cx="871.90" cy="613.18" r="7" fill="#00ffff"/><circle cx="888.20" cy="610.02" r="7" fill="#00ffff"/><rect x="436.7" y="35.4" width="433.8" height="129" fill="#fff" stroke="#3a3a3a" stroke-width="1.5"/><path d="M443.90 54.10H512.40" stroke="#ff0000" stroke-width="4.5"/><rect x="472.75" y="48.75" width="10.70" height="10.70" fill="none" stroke="#ff0000" stroke-width="4.5"/><text transform="translate(518.70 63.40) scale(1.048 1)" class="lg">Seline Trustworthy-TSP routing</text><path d="M443.90 84.80H512.40" stroke="#00ff00" stroke-width="4.5"/><path d="M478.10 71.80L481.51 80.71L491.03 81.20L483.62 87.19L486.09 96.40L478.10 91.20L470.11 96.40L472.58 87.19L465.17 81.20L474.69 80.71Z" fill="#00ff00"/><text transform="translate(518.70 94.10) scale(1.048 1)" class="lg">ACO-TSP routing</text><path d="M443.90 115.50H512.40" stroke="#0000ff" stroke-width="4.5"/><path d="M478.10 106.60L485.05 115.50L478.10 124.40L471.15 115.50Z" fill="none" stroke="#0000ff" stroke-width="4.5" stroke-miterlimit="10"/><text transform="translate(518.70 124.80) scale(1.048 1)" class="lg">ABC-TSP routing</text><path d="M443.90 146.20H512.40" stroke="#00ffff" stroke-width="4.5"/><circle cx="478.10" cy="146.20" r="7" fill="#00ffff"/><text transform="translate(518.70 155.50) scale(1.048 1)" class="lg">PSO-TSP routing</text></g>
<g id="pb"><path d="M1115.6 16.6V767.7" fill="none" stroke="#666" stroke-width="2"/><path d="M1114.6 767.7H1932.4" fill="none" stroke="#626262" stroke-width="2"/><path d="M1115.60 767.7v-8.2" stroke="#3a3a3a" stroke-width="1.4"/><text x="1115.60" y="800.30" class="tk" text-anchor="middle">0</text><path d="M1197.21 767.7v-8.2" stroke="#3a3a3a" stroke-width="1.4"/><text x="1197.21" y="800.30" class="tk" text-anchor="middle">5</text><path d="M1278.82 767.7v-8.2" stroke="#3a3a3a" stroke-width="1.4"/><text x="1278.82" y="800.30" class="tk" text-anchor="middle">10</text><path d="M1360.43 767.7v-8.2" stroke="#3a3a3a" stroke-width="1.4"/><text x="1360.43" y="800.30" class="tk" text-anchor="middle">15</text><path d="M1442.04 767.7v-8.2" stroke="#3a3a3a" stroke-width="1.4"/><text x="1442.04" y="800.30" class="tk" text-anchor="middle">20</text><path d="M1523.65 767.7v-8.2" stroke="#3a3a3a" stroke-width="1.4"/><text x="1523.65" y="800.30" class="tk" text-anchor="middle">25</text><path d="M1605.26 767.7v-8.2" stroke="#3a3a3a" stroke-width="1.4"/><text x="1605.26" y="800.30" class="tk" text-anchor="middle">30</text><path d="M1686.87 767.7v-8.2" stroke="#3a3a3a" stroke-width="1.4"/><text x="1686.87" y="800.30" class="tk" text-anchor="middle">35</text><path d="M1768.48 767.7v-8.2" stroke="#3a3a3a" stroke-width="1.4"/><text x="1768.48" y="800.30" class="tk" text-anchor="middle">40</text><path d="M1850.09 767.7v-8.2" stroke="#3a3a3a" stroke-width="1.4"/><text x="1850.09" y="800.30" class="tk" text-anchor="middle">45</text><path d="M1931.70 767.7v-8.2" stroke="#3a3a3a" stroke-width="1.4"/><text x="1931.70" y="800.30" class="tk" text-anchor="middle">50</text><path d="M1115.6 767.70h8.2" stroke="#3a3a3a" stroke-width="1.4"/><text x="1105.40" y="777.00" class="tk" text-anchor="end">0</text><path d="M1115.6 692.68h8.2" stroke="#3a3a3a" stroke-width="1.4"/><text x="1105.40" y="701.98" class="tk" text-anchor="end">0.1</text><path d="M1115.6 617.66h8.2" stroke="#3a3a3a" stroke-width="1.4"/><text x="1105.40" y="626.96" class="tk" text-anchor="end">0.2</text><path d="M1115.6 542.64h8.2" stroke="#3a3a3a" stroke-width="1.4"/><text x="1105.40" y="551.94" class="tk" text-anchor="end">0.3</text><path d="M1115.6 467.62h8.2" stroke="#3a3a3a" stroke-width="1.4"/><text x="1105.40" y="476.92" class="tk" text-anchor="end">0.4</text><path d="M1115.6 392.60h8.2" stroke="#3a3a3a" stroke-width="1.4"/><text x="1105.40" y="401.90" class="tk" text-anchor="end">0.5</text><path d="M1115.6 317.58h8.2" stroke="#3a3a3a" stroke-width="1.4"/><text x="1105.40" y="326.88" class="tk" text-anchor="end">0.6</text><path d="M1115.6 242.56h8.2" stroke="#3a3a3a" stroke-width="1.4"/><text x="1105.40" y="251.86" class="tk" text-anchor="end">0.7</text><path d="M1115.6 167.54h8.2" stroke="#3a3a3a" stroke-width="1.4"/><text x="1105.40" y="176.84" class="tk" text-anchor="end">0.8</text><path d="M1115.6 92.52h8.2" stroke="#3a3a3a" stroke-width="1.4"/><text x="1105.40" y="101.82" class="tk" text-anchor="end">0.9</text><path d="M1115.6 17.50h8.2" stroke="#3a3a3a" stroke-width="1.4"/><text x="1105.40" y="26.80" class="tk" text-anchor="end">1</text><text transform="translate(1523.65 831.20) scale(1.03 1)" class="lb" text-anchor="middle">Rounds</text><text transform="translate(1062.00 392.60)  rotate(-90) scale(1.02 1)" class="lb" text-anchor="middle">Energy</text><text x="1540.8" y="897.4" class="sub" text-anchor="middle">b)</text><path d="M1131.92 17.65L1148.24 17.65L1164.57 17.65L1180.89 17.65L1197.21 17.65L1213.53 17.65L1229.85 17.65L1246.18 17.65L1262.50 17.66L1278.82 17.66L1295.14 17.66L1311.46 17.66L1327.79 17.67L1344.11 17.67L1360.43 17.68L1376.75 17.68L1393.07 17.69L1409.40 17.70L1425.72 17.70L1442.04 17.71L1458.36 17.72L1474.68 17.73L1491.01 17.74L1507.33 17.76L1523.65 17.77L1539.97 17.78L1556.29 17.80L1572.62 17.82L1588.94 17.84L1605.26 17.85L1621.58 17.88L1637.90 18.48L1654.23 23.88L1670.55 26.28L1686.87 29.65L1703.19 29.80L1719.51 34.38L1735.84 40.01L1752.16 46.98L1768.48 56.29L1784.80 58.39L1801.12 69.64L1817.45 71.51L1833.77 140.68L1850.09 146.53L1866.41 149.99L1882.73 207.30L1899.06 488.03L1915.38 526.44L1931.70 676.63" fill="none" stroke="#ff0000" stroke-width="4.5" stroke-linejoin="round"/><rect x="1126.57" y="12.30" width="10.70" height="10.70" fill="none" stroke="#ff0000" stroke-width="4.5"/><rect x="1142.89" y="12.30" width="10.70" height="10.70" fill="none" stroke="#ff0000" stroke-width="4.5"/><rect x="1159.22" y="12.30" width="10.70" height="10.70" fill="none" stroke="#ff0000" stroke-width="4.5"/><rect x="1175.54" y="12.30" width="10.70" height="10.70" fill="none" stroke="#ff0000" stroke-width="4.5"/><rect x="1191.86" y="12.30" width="10.70" height="10.70" fill="none" stroke="#ff0000" stroke-width="4.5"/><rect x="1208.18" y="12.30" width="10.70" height="10.70" fill="none" stroke="#ff0000" stroke-width="4.5"/><rect x="1224.50" y="12.30" width="10.70" height="10.70" fill="none" stroke="#ff0000" stroke-width="4.5"/><rect x="1240.83" y="12.30" width="10.70" height="10.70" fill="none" stroke="#ff0000" stroke-width="4.5"/><rect x="1257.15" y="12.31" width="10.70" height="10.70" fill="none" stroke="#ff0000" stroke-width="4.5"/><rect x="1273.47" y="12.31" width="10.70" height="10.70" fill="none" stroke="#ff0000" stroke-width="4.5"/><rect x="1289.79" y="12.31" width="10.70" height="10.70" fill="none" stroke="#ff0000" stroke-width="4.5"/><rect x="1306.11" y="12.31" width="10.70" height="10.70" fill="none" stroke="#ff0000" stroke-width="4.5"/><rect x="1322.44" y="12.32" width="10.70" height="10.70" fill="none" stroke="#ff0000" stroke-width="4.5"/><rect x="1338.76" y="12.32" width="10.70" height="10.70" fill="none" stroke="#ff0000" stroke-width="4.5"/><rect x="1355.08" y="12.33" width="10.70" height="10.70" fill="none" stroke="#ff0000" stroke-width="4.5"/><rect x="1371.40" y="12.33" width="10.70" height="10.70" fill="none" stroke="#ff0000" stroke-width="4.5"/><rect x="1387.72" y="12.34" width="10.70" height="10.70" fill="none" stroke="#ff0000" stroke-width="4.5"/><rect x="1404.05" y="12.35" width="10.70" height="10.70" fill="none" stroke="#ff0000" stroke-width="4.5"/><rect x="1420.37" y="12.35" width="10.70" height="10.70" fill="none" stroke="#ff0000" stroke-width="4.5"/><rect x="1436.69" y="12.36" width="10.70" height="10.70" fill="none" stroke="#ff0000" stroke-width="4.5"/><rect x="1453.01" y="12.37" width="10.70" height="10.70" fill="none" stroke="#ff0000" stroke-width="4.5"/><rect x="1469.33" y="12.38" width="10.70" height="10.70" fill="none" stroke="#ff0000" stroke-width="4.5"/><rect x="1485.66" y="12.39" width="10.70" height="10.70" fill="none" stroke="#ff0000" stroke-width="4.5"/><rect x="1501.98" y="12.41" width="10.70" height="10.70" fill="none" stroke="#ff0000" stroke-width="4.5"/><rect x="1518.30" y="12.42" width="10.70" height="10.70" fill="none" stroke="#ff0000" stroke-width="4.5"/><rect x="1534.62" y="12.43" width="10.70" height="10.70" fill="none" stroke="#ff0000" stroke-width="4.5"/><rect x="1550.94" y="12.45" width="10.70" height="10.70" fill="none" stroke="#ff0000" stroke-width="4.5"/><rect x="1567.27" y="12.47" width="10.70" height="10.70" fill="none" stroke="#ff0000" stroke-width="4.5"/><rect x="1583.59" y="12.49" width="10.70" height="10.70" fill="none" stroke="#ff0000" stroke-width="4.5"/><rect x="1599.91" y="12.50" width="10.70" height="10.70" fill="none" stroke="#ff0000" stroke-width="4.5"/><rect x="1616.23" y="12.53" width="10.70" height="10.70" fill="none" stroke="#ff0000" stroke-width="4.5"/><rect x="1632.55" y="13.13" width="10.70" height="10.70" fill="none" stroke="#ff0000" stroke-width="4.5"/><rect x="1648.88" y="18.53" width="10.70" height="10.70" fill="none" stroke="#ff0000" stroke-width="4.5"/><rect x="1665.20" y="20.93" width="10.70" height="10.70" fill="none" stroke="#ff0000" stroke-width="4.5"/><rect x="1681.52" y="24.30" width="10.70" height="10.70" fill="none" stroke="#ff0000" stroke-width="4.5"/><rect x="1697.84" y="24.45" width="10.70" height="10.70" fill="none" stroke="#ff0000" stroke-width="4.5"/><rect x="1714.16" y="29.03" width="10.70" height="10.70" fill="none" stroke="#ff0000" stroke-width="4.5"/><rect x="1730.49" y="34.66" width="10.70" height="10.70" fill="none" stroke="#ff0000" stroke-width="4.5"/><rect x="1746.81" y="41.63" width="10.70" height="10.70" fill="none" stroke="#ff0000" stroke-width="4.5"/><rect x="1763.13" y="50.94" width="10.70" height="10.70" fill="none" stroke="#ff0000" stroke-width="4.5"/><rect x="1779.45" y="53.04" width="10.70" height="10.70" fill="none" stroke="#ff0000" stroke-width="4.5"/><rect x="1795.77" y="64.29" width="10.70" height="10.70" fill="none" stroke="#ff0000" stroke-width="4.5"/><rect x="1812.10" y="66.16" width="10.70" height="10.70" fill="none" stroke="#ff0000" stroke-width="4.5"/><rect x="1828.42" y="135.33" width="10.70" height="10.70" fill="none" stroke="#ff0000" stroke-width="4.5"/><rect x="1844.74" y="141.18" width="10.70" height="10.70" fill="none" stroke="#ff0000" stroke-width="4.5"/><rect x="1861.06" y="144.64" width="10.70" height="10.70" fill="none" stroke="#ff0000" stroke-width="4.5"/><rect x="1877.38" y="201.95" width="10.70" height="10.70" fill="none" stroke="#ff0000" stroke-width="4.5"/><rect x="1893.71" y="482.68" width="10.70" height="10.70" fill="none" stroke="#ff0000" stroke-width="4.5"/><rect x="1910.03" y="521.09" width="10.70" height="10.70" fill="none" stroke="#ff0000" stroke-width="4.5"/><rect x="1926.35" y="671.28" width="10.70" height="10.70" fill="none" stroke="#ff0000" stroke-width="4.5"/><path d="M1131.92 17.65L1148.24 17.65L1164.57 17.65L1180.89 17.66L1197.21 17.66L1213.53 17.67L1229.85 17.69L1246.18 17.70L1262.50 17.72L1278.82 17.74L1295.14 17.77L1311.46 17.80L1327.79 18.06L1344.11 18.68L1360.43 19.53L1376.75 21.10L1393.07 22.75L1409.40 23.20L1425.72 23.80L1442.04 25.90L1458.36 28.75L1474.68 30.25L1491.01 31.75L1507.33 32.50L1523.65 33.25L1539.97 37.68L1556.29 41.81L1572.62 43.01L1588.94 47.96L1605.26 51.63L1621.58 59.81L1637.90 61.01L1654.23 62.51L1670.55 74.29L1686.87 75.27L1703.19 76.17L1719.51 86.52L1735.84 95.82L1752.16 96.80L1768.48 142.71L1784.80 146.76L1801.12 151.41L1817.45 174.07L1833.77 178.04L1850.09 179.54L1866.41 212.55L1882.73 241.81L1899.06 546.02L1915.38 589.38L1931.70 589.38" fill="none" stroke="#00ff00" stroke-width="4.5" stroke-linejoin="round"/><path d="M1131.92 4.65L1135.33 13.56L1144.86 14.05L1137.44 20.04L1139.92 29.25L1131.92 24.05L1123.93 29.25L1126.41 20.04L1118.99 14.05L1128.51 13.56Z" fill="#00ff00"/><path d="M1148.24 4.65L1151.65 13.56L1161.18 14.05L1153.76 20.04L1156.24 29.25L1148.24 24.05L1140.25 29.25L1142.73 20.04L1135.31 14.05L1144.83 13.56Z" fill="#00ff00"/><path d="M1164.57 4.65L1167.98 13.56L1177.50 14.05L1170.08 20.05L1172.56 29.26L1164.57 24.05L1156.57 29.26L1159.05 20.05L1151.63 14.05L1161.16 13.56Z" fill="#00ff00"/><path d="M1180.89 4.66L1184.30 13.57L1193.82 14.06L1186.40 20.05L1188.88 29.26L1180.89 24.06L1172.89 29.26L1175.37 20.05L1167.95 14.06L1177.48 13.57Z" fill="#00ff00"/><path d="M1197.21 4.66L1200.62 13.57L1210.14 14.06L1202.73 20.06L1205.20 29.27L1197.21 24.06L1189.22 29.27L1191.69 20.06L1184.28 14.06L1193.80 13.57Z" fill="#00ff00"/><path d="M1213.53 4.67L1216.94 13.58L1226.47 14.07L1219.05 20.07L1221.53 29.28L1213.53 24.07L1205.54 29.28L1208.02 20.07L1200.60 14.07L1210.12 13.58Z" fill="#00ff00"/><path d="M1229.85 4.69L1233.26 13.59L1242.79 14.08L1235.37 20.08L1237.85 29.29L1229.85 24.09L1221.86 29.29L1224.34 20.08L1216.92 14.08L1226.44 13.59Z" fill="#00ff00"/><path d="M1246.18 4.70L1249.59 13.61L1259.11 14.10L1251.69 20.09L1254.17 29.30L1246.18 24.10L1238.18 29.30L1240.66 20.09L1233.24 14.10L1242.77 13.61Z" fill="#00ff00"/><path d="M1262.50 4.72L1265.91 13.63L1275.43 14.12L1268.01 20.11L1270.49 29.32L1262.50 24.12L1254.50 29.32L1256.98 20.11L1249.56 14.12L1259.09 13.63Z" fill="#00ff00"/><path d="M1278.82 4.74L1282.23 13.65L1291.75 14.14L1284.34 20.14L1286.81 29.35L1278.82 24.14L1270.83 29.35L1273.30 20.14L1265.89 14.14L1275.41 13.65Z" fill="#00ff00"/><path d="M1295.14 4.77L1298.55 13.68L1308.08 14.17L1300.66 20.16L1303.14 29.37L1295.14 24.17L1287.15 29.37L1289.63 20.16L1282.21 14.17L1291.73 13.68Z" fill="#00ff00"/><path d="M1311.46 4.80L1314.87 13.71L1324.40 14.20L1316.98 20.19L1319.46 29.40L1311.46 24.20L1303.47 29.40L1305.95 20.19L1298.53 14.20L1308.05 13.71Z" fill="#00ff00"/><path d="M1327.79 5.06L1331.20 13.97L1340.72 14.46L1333.30 20.45L1335.78 29.66L1327.79 24.46L1319.79 29.66L1322.27 20.45L1314.85 14.46L1324.38 13.97Z" fill="#00ff00"/><path d="M1344.11 5.68L1347.52 14.59L1357.04 15.08L1349.62 21.07L1352.10 30.28L1344.11 25.08L1336.11 30.28L1338.59 21.07L1331.17 15.08L1340.70 14.59Z" fill="#00ff00"/><path d="M1360.43 6.53L1363.84 15.43L1373.36 15.92L1365.95 21.92L1368.42 31.13L1360.43 25.93L1352.44 31.13L1354.91 21.92L1347.50 15.92L1357.02 15.43Z" fill="#00ff00"/><path d="M1376.75 8.10L1380.16 17.01L1389.69 17.50L1382.27 23.49L1384.75 32.70L1376.75 27.50L1368.76 32.70L1371.24 23.49L1363.82 17.50L1373.34 17.01Z" fill="#00ff00"/><path d="M1393.07 9.75L1396.48 18.66L1406.01 19.15L1398.59 25.14L1401.07 34.35L1393.07 29.15L1385.08 34.35L1387.56 25.14L1380.14 19.15L1389.66 18.66Z" fill="#00ff00"/><path d="M1409.40 10.20L1412.81 19.11L1422.33 19.60L1414.91 25.59L1417.39 34.80L1409.40 29.60L1401.40 34.80L1403.88 25.59L1396.46 19.60L1405.99 19.11Z" fill="#00ff00"/><path d="M1425.72 10.80L1429.13 19.71L1438.65 20.20L1431.23 26.19L1433.71 35.40L1425.72 30.20L1417.72 35.40L1420.20 26.19L1412.78 20.20L1422.31 19.71Z" fill="#00ff00"/><path d="M1442.04 12.90L1445.45 21.81L1454.97 22.30L1447.56 28.29L1450.03 37.50L1442.04 32.30L1434.05 37.50L1436.52 28.29L1429.11 22.30L1438.63 21.81Z" fill="#00ff00"/><path d="M1458.36 15.75L1461.77 24.66L1471.30 25.15L1463.88 31.15L1466.36 40.36L1458.36 35.15L1450.37 40.36L1452.85 31.15L1445.43 25.15L1454.95 24.66Z" fill="#00ff00"/><path d="M1474.68 17.25L1478.09 26.16L1487.62 26.65L1480.20 32.65L1482.68 41.86L1474.68 36.65L1466.69 41.86L1469.17 32.65L1461.75 26.65L1471.27 26.16Z" fill="#00ff00"/><path d="M1491.01 18.75L1494.42 27.66L1503.94 28.15L1496.52 34.15L1499.00 43.36L1491.01 38.15L1483.01 43.36L1485.49 34.15L1478.07 28.15L1487.60 27.66Z" fill="#00ff00"/><path d="M1507.33 19.50L1510.74 28.41L1520.26 28.90L1512.84 34.90L1515.32 44.11L1507.33 38.90L1499.33 44.11L1501.81 34.90L1494.39 28.90L1503.92 28.41Z" fill="#00ff00"/><path d="M1523.65 20.25L1527.06 29.16L1536.58 29.65L1529.17 35.65L1531.64 44.86L1523.65 39.65L1515.66 44.86L1518.13 35.65L1510.72 29.65L1520.24 29.16Z" fill="#00ff00"/><path d="M1539.97 24.68L1543.38 33.59L1552.91 34.08L1545.49 40.07L1547.97 49.28L1539.97 44.08L1531.98 49.28L1534.46 40.07L1527.04 34.08L1536.56 33.59Z" fill="#00ff00"/><path d="M1556.29 28.81L1559.70 37.71L1569.23 38.20L1561.81 44.20L1564.29 53.41L1556.29 48.21L1548.30 53.41L1550.78 44.20L1543.36 38.20L1552.88 37.71Z" fill="#00ff00"/><path d="M1572.62 30.01L1576.03 38.91L1585.55 39.40L1578.13 45.40L1580.61 54.61L1572.62 49.41L1564.62 54.61L1567.10 45.40L1559.68 39.40L1569.21 38.91Z" fill="#00ff00"/><path d="M1588.94 34.96L1592.35 43.87L1601.87 44.36L1594.45 50.35L1596.93 59.56L1588.94 54.36L1580.94 59.56L1583.42 50.35L1576.00 44.36L1585.53 43.87Z" fill="#00ff00"/><path d="M1605.26 38.63L1608.67 47.54L1618.19 48.03L1610.78 54.03L1613.25 63.24L1605.26 58.03L1597.27 63.24L1599.74 54.03L1592.33 48.03L1601.85 47.54Z" fill="#00ff00"/><path d="M1621.58 46.81L1624.99 55.72L1634.52 56.21L1627.10 62.20L1629.58 71.41L1621.58 66.21L1613.59 71.41L1616.07 62.20L1608.65 56.21L1618.17 55.72Z" fill="#00ff00"/><path d="M1637.90 48.01L1641.31 56.92L1650.84 57.41L1643.42 63.40L1645.90 72.61L1637.90 67.41L1629.91 72.61L1632.39 63.40L1624.97 57.41L1634.49 56.92Z" fill="#00ff00"/><path d="M1654.23 49.51L1657.64 58.42L1667.16 58.91L1659.74 64.90L1662.22 74.11L1654.23 68.91L1646.23 74.11L1648.71 64.90L1641.29 58.91L1650.82 58.42Z" fill="#00ff00"/><path d="M1670.55 61.29L1673.96 70.20L1683.48 70.69L1676.06 76.68L1678.54 85.89L1670.55 80.69L1662.55 85.89L1665.03 76.68L1657.61 70.69L1667.14 70.20Z" fill="#00ff00"/><path d="M1686.87 62.27L1690.28 71.17L1699.80 71.66L1692.39 77.66L1694.86 86.87L1686.87 81.67L1678.88 86.87L1681.35 77.66L1673.94 71.66L1683.46 71.17Z" fill="#00ff00"/><path d="M1703.19 63.17L1706.60 72.07L1716.13 72.56L1708.71 78.56L1711.19 87.77L1703.19 82.57L1695.20 87.77L1697.68 78.56L1690.26 72.56L1699.78 72.07Z" fill="#00ff00"/><path d="M1719.51 73.52L1722.92 82.43L1732.45 82.92L1725.03 88.91L1727.51 98.12L1719.51 92.92L1711.52 98.12L1714.00 88.91L1706.58 82.92L1716.10 82.43Z" fill="#00ff00"/><path d="M1735.84 82.82L1739.25 91.73L1748.77 92.22L1741.35 98.21L1743.83 107.42L1735.84 102.22L1727.84 107.42L1730.32 98.21L1722.90 92.22L1732.43 91.73Z" fill="#00ff00"/><path d="M1752.16 83.80L1755.57 92.70L1765.09 93.19L1757.67 99.19L1760.15 108.40L1752.16 103.20L1744.16 108.40L1746.64 99.19L1739.22 93.19L1748.75 92.70Z" fill="#00ff00"/><path d="M1768.48 129.71L1771.89 138.62L1781.41 139.11L1774.00 145.10L1776.47 154.31L1768.48 149.11L1760.49 154.31L1762.96 145.10L1755.55 139.11L1765.07 138.62Z" fill="#00ff00"/><path d="M1784.80 133.76L1788.21 142.67L1797.74 143.16L1790.32 149.15L1792.80 158.36L1784.80 153.16L1776.81 158.36L1779.29 149.15L1771.87 143.16L1781.39 142.67Z" fill="#00ff00"/><path d="M1801.12 138.41L1804.53 147.32L1814.06 147.81L1806.64 153.80L1809.12 163.01L1801.12 157.81L1793.13 163.01L1795.61 153.80L1788.19 147.81L1797.71 147.32Z" fill="#00ff00"/><path d="M1817.45 161.07L1820.86 169.97L1830.38 170.46L1822.96 176.46L1825.44 185.67L1817.45 180.47L1809.45 185.67L1811.93 176.46L1804.51 170.46L1814.04 169.97Z" fill="#00ff00"/><path d="M1833.77 165.04L1837.18 173.95L1846.70 174.44L1839.28 180.44L1841.76 189.65L1833.77 184.44L1825.77 189.65L1828.25 180.44L1820.83 174.44L1830.36 173.95Z" fill="#00ff00"/><path d="M1850.09 166.54L1853.50 175.45L1863.02 175.94L1855.61 181.94L1858.08 191.15L1850.09 185.94L1842.10 191.15L1844.57 181.94L1837.16 175.94L1846.68 175.45Z" fill="#00ff00"/><path d="M1866.41 199.55L1869.82 208.46L1879.35 208.95L1871.93 214.94L1874.41 224.15L1866.41 218.95L1858.42 224.15L1860.90 214.94L1853.48 208.95L1863.00 208.46Z" fill="#00ff00"/><path d="M1882.73 228.81L1886.14 237.72L1895.67 238.21L1888.25 244.20L1890.73 253.41L1882.73 248.21L1874.74 253.41L1877.22 244.20L1869.80 238.21L1879.32 237.72Z" fill="#00ff00"/><path d="M1899.06 533.02L1902.47 541.92L1911.99 542.41L1904.57 548.41L1907.05 557.62L1899.06 552.42L1891.06 557.62L1893.54 548.41L1886.12 542.41L1895.65 541.92Z" fill="#00ff00"/><path d="M1915.38 576.38L1918.79 585.29L1928.31 585.77L1920.89 591.77L1923.37 600.98L1915.38 595.78L1907.38 600.98L1909.86 591.77L1902.44 585.77L1911.97 585.29Z" fill="#00ff00"/><path d="M1931.70 576.38L1935.11 585.29L1944.63 585.77L1937.22 591.77L1939.69 600.98L1931.70 595.78L1923.71 600.98L1926.18 591.77L1918.77 585.77L1928.29 585.29Z" fill="#00ff00"/><path d="M1131.92 17.88L1148.24 17.96L1164.57 18.05L1180.89 18.15L1197.21 18.26L1213.53 18.37L1229.85 18.49L1246.18 18.61L1262.50 18.74L1278.82 18.87L1295.14 19.00L1311.46 19.15L1327.79 19.15L1344.11 19.75L1360.43 20.80L1376.75 22.38L1393.07 24.03L1409.40 24.48L1425.72 28.00L1442.04 30.25L1458.36 30.48L1474.68 33.25L1491.01 34.00L1507.33 34.00L1523.65 34.75L1539.97 40.01L1556.29 43.38L1572.62 44.88L1588.94 49.01L1605.26 53.13L1621.58 61.76L1637.90 64.46L1654.23 66.04L1670.55 75.27L1686.87 77.52L1703.19 81.79L1719.51 98.30L1735.84 107.52L1752.16 113.23L1768.48 162.14L1784.80 166.79L1801.12 175.04L1817.45 218.55L1833.77 224.56L1850.09 229.06L1866.41 255.31L1882.73 313.08L1899.06 605.51L1915.38 654.12L1931.70 654.12" fill="none" stroke="#0000ff" stroke-width="4.5" stroke-linejoin="round"/><path d="M1131.92 8.98L1138.87 17.88L1131.92 26.78L1124.97 17.88Z" fill="none" stroke="#0000ff" stroke-width="4.5" stroke-miterlimit="10"/><path d="M1148.24 9.06L1155.19 17.96L1148.24 26.86L1141.29 17.96Z" fill="none" stroke="#0000ff" stroke-width="4.5" stroke-miterlimit="10"/><path d="M1164.57 9.15L1171.52 18.05L1164.57 26.95L1157.62 18.05Z" fill="none" stroke="#0000ff" stroke-width="4.5" stroke-miterlimit="10"/><path d="M1180.89 9.25L1187.84 18.15L1180.89 27.05L1173.94 18.15Z" fill="none" stroke="#0000ff" stroke-width="4.5" stroke-miterlimit="10"/><path d="M1197.21 9.36L1204.16 18.26L1197.21 27.16L1190.26 18.26Z" fill="none" stroke="#0000ff" stroke-width="4.5" stroke-miterlimit="10"/><path d="M1213.53 9.47L1220.48 18.37L1213.53 27.27L1206.58 18.37Z" fill="none" stroke="#0000ff" stroke-width="4.5" stroke-miterlimit="10"/><path d="M1229.85 9.59L1236.80 18.49L1229.85 27.39L1222.90 18.49Z" fill="none" stroke="#0000ff" stroke-width="4.5" stroke-miterlimit="10"/><path d="M1246.18 9.71L1253.13 18.61L1246.18 27.51L1239.23 18.61Z" fill="none" stroke="#0000ff" stroke-width="4.5" stroke-miterlimit="10"/><path d="M1262.50 9.84L1269.45 18.74L1262.50 27.64L1255.55 18.74Z" fill="none" stroke="#0000ff" stroke-width="4.5" stroke-miterlimit="10"/><path d="M1278.82 9.97L1285.77 18.87L1278.82 27.77L1271.87 18.87Z" fill="none" stroke="#0000ff" stroke-width="4.5" stroke-miterlimit="10"/><path d="M1295.14 10.10L1302.09 19.00L1295.14 27.90L1288.19 19.00Z" fill="none" stroke="#0000ff" stroke-width="4.5" stroke-miterlimit="10"/><path d="M1311.46 10.25L1318.41 19.15L1311.46 28.05L1304.51 19.15Z" fill="none" stroke="#0000ff" stroke-width="4.5" stroke-miterlimit="10"/><path d="M1327.79 10.25L1334.74 19.15L1327.79 28.05L1320.84 19.15Z" fill="none" stroke="#0000ff" stroke-width="4.5" stroke-miterlimit="10"/><path d="M1344.11 10.85L1351.06 19.75L1344.11 28.65L1337.16 19.75Z" fill="none" stroke="#0000ff" stroke-width="4.5" stroke-miterlimit="10"/><path d="M1360.43 11.90L1367.38 20.80L1360.43 29.70L1353.48 20.80Z" fill="none" stroke="#0000ff" stroke-width="4.5" stroke-miterlimit="10"/><path d="M1376.75 13.48L1383.70 22.38L1376.75 31.28L1369.80 22.38Z" fill="none" stroke="#0000ff" stroke-width="4.5" stroke-miterlimit="10"/><path d="M1393.07 15.13L1400.02 24.03L1393.07 32.93L1386.12 24.03Z" fill="none" stroke="#0000ff" stroke-width="4.5" stroke-miterlimit="10"/><path d="M1409.40 15.58L1416.35 24.48L1409.40 33.38L1402.45 24.48Z" fill="none" stroke="#0000ff" stroke-width="4.5" stroke-miterlimit="10"/><path d="M1425.72 19.10L1432.67 28.00L1425.72 36.90L1418.77 28.00Z" fill="none" stroke="#0000ff" stroke-width="4.5" stroke-miterlimit="10"/><path d="M1442.04 21.35L1448.99 30.25L1442.04 39.15L1435.09 30.25Z" fill="none" stroke="#0000ff" stroke-width="4.5" stroke-miterlimit="10"/><path d="M1458.36 21.58L1465.31 30.48L1458.36 39.38L1451.41 30.48Z" fill="none" stroke="#0000ff" stroke-width="4.5" stroke-miterlimit="10"/><path d="M1474.68 24.35L1481.63 33.25L1474.68 42.15L1467.73 33.25Z" fill="none" stroke="#0000ff" stroke-width="4.5" stroke-miterlimit="10"/><path d="M1491.01 25.10L1497.96 34.00L1491.01 42.90L1484.06 34.00Z" fill="none" stroke="#0000ff" stroke-width="4.5" stroke-miterlimit="10"/><path d="M1507.33 25.10L1514.28 34.00L1507.33 42.90L1500.38 34.00Z" fill="none" stroke="#0000ff" stroke-width="4.5" stroke-miterlimit="10"/><path d="M1523.65 25.85L1530.60 34.75L1523.65 43.65L1516.70 34.75Z" fill="none" stroke="#0000ff" stroke-width="4.5" stroke-miterlimit="10"/><path d="M1539.97 31.11L1546.92 40.01L1539.97 48.91L1533.02 40.01Z" fill="none" stroke="#0000ff" stroke-width="4.5" stroke-miterlimit="10"/><path d="M1556.29 34.48L1563.24 43.38L1556.29 52.28L1549.34 43.38Z" fill="none" stroke="#0000ff" stroke-width="4.5" stroke-miterlimit="10"/><path d="M1572.62 35.98L1579.57 44.88L1572.62 53.78L1565.67 44.88Z" fill="none" stroke="#0000ff" stroke-width="4.5" stroke-miterlimit="10"/><path d="M1588.94 40.11L1595.89 49.01L1588.94 57.91L1581.99 49.01Z" fill="none" stroke="#0000ff" stroke-width="4.5" stroke-miterlimit="10"/><path d="M1605.26 44.23L1612.21 53.13L1605.26 62.03L1598.31 53.13Z" fill="none" stroke="#0000ff" stroke-width="4.5" stroke-miterlimit="10"/><path d="M1621.58 52.86L1628.53 61.76L1621.58 70.66L1614.63 61.76Z" fill="none" stroke="#0000ff" stroke-width="4.5" stroke-miterlimit="10"/><path d="M1637.90 55.56L1644.85 64.46L1637.90 73.36L1630.95 64.46Z" fill="none" stroke="#0000ff" stroke-width="4.5" stroke-miterlimit="10"/><path d="M1654.23 57.14L1661.18 66.04L1654.23 74.94L1647.28 66.04Z" fill="none" stroke="#0000ff" stroke-width="4.5" stroke-miterlimit="10"/><path d="M1670.55 66.37L1677.50 75.27L1670.55 84.17L1663.60 75.27Z" fill="none" stroke="#0000ff" stroke-width="4.5" stroke-miterlimit="10"/><path d="M1686.87 68.62L1693.82 77.52L1686.87 86.42L1679.92 77.52Z" fill="none" stroke="#0000ff" stroke-width="4.5" stroke-miterlimit="10"/><path d="M1703.19 72.89L1710.14 81.79L1703.19 90.69L1696.24 81.79Z" fill="none" stroke="#0000ff" stroke-width="4.5" stroke-miterlimit="10"/><path d="M1719.51 89.40L1726.46 98.30L1719.51 107.20L1712.56 98.30Z" fill="none" stroke="#0000ff" stroke-width="4.5" stroke-miterlimit="10"/><path d="M1735.84 98.62L1742.79 107.52L1735.84 116.42L1728.89 107.52Z" fill="none" stroke="#0000ff" stroke-width="4.5" stroke-miterlimit="10"/><path d="M1752.16 104.33L1759.11 113.23L1752.16 122.13L1745.21 113.23Z" fill="none" stroke="#0000ff" stroke-width="4.5" stroke-miterlimit="10"/><path d="M1768.48 153.24L1775.43 162.14L1768.48 171.04L1761.53 162.14Z" fill="none" stroke="#0000ff" stroke-width="4.5" stroke-miterlimit="10"/><path d="M1784.80 157.89L1791.75 166.79L1784.80 175.69L1777.85 166.79Z" fill="none" stroke="#0000ff" stroke-width="4.5" stroke-miterlimit="10"/><path d="M1801.12 166.14L1808.07 175.04L1801.12 183.94L1794.17 175.04Z" fill="none" stroke="#0000ff" stroke-width="4.5" stroke-miterlimit="10"/><path d="M1817.45 209.65L1824.40 218.55L1817.45 227.45L1810.50 218.55Z" fill="none" stroke="#0000ff" stroke-width="4.5" stroke-miterlimit="10"/><path d="M1833.77 215.66L1840.72 224.56L1833.77 233.46L1826.82 224.56Z" fill="none" stroke="#0000ff" stroke-width="4.5" stroke-miterlimit="10"/><path d="M1850.09 220.16L1857.04 229.06L1850.09 237.96L1843.14 229.06Z" fill="none" stroke="#0000ff" stroke-width="4.5" stroke-miterlimit="10"/><path d="M1866.41 246.41L1873.36 255.31L1866.41 264.21L1859.46 255.31Z" fill="none" stroke="#0000ff" stroke-width="4.5" stroke-miterlimit="10"/><path d="M1882.73 304.18L1889.68 313.08L1882.73 321.98L1875.78 313.08Z" fill="none" stroke="#0000ff" stroke-width="4.5" stroke-miterlimit="10"/><path d="M1899.06 596.61L1906.01 605.51L1899.06 614.41L1892.11 605.51Z" fill="none" stroke="#0000ff" stroke-width="4.5" stroke-miterlimit="10"/><path d="M1915.38 645.22L1922.33 654.12L1915.38 663.02L1908.43 654.12Z" fill="none" stroke="#0000ff" stroke-width="4.5" stroke-miterlimit="10"/><path d="M1931.70 645.22L1938.65 654.12L1931.70 663.02L1924.75 654.12Z" fill="none" stroke="#0000ff" stroke-width="4.5" stroke-miterlimit="10"/><path d="M1131.92 17.88L1148.24 17.89L1164.57 17.92L1180.89 17.98L1197.21 18.06L1213.53 18.16L1229.85 18.28L1246.18 18.43L1262.50 18.60L1278.82 18.79L1295.14 19.00L1311.46 19.53L1327.79 19.98L1344.11 20.50L1360.43 21.63L1376.75 23.20L1393.07 24.25L1409.40 25.00L1425.72 29.73L1442.04 31.38L1458.36 32.50L1474.68 34.75L1491.01 36.25L1507.33 37.08L1523.65 37.01L1539.97 44.81L1556.29 49.01L1572.62 52.01L1588.94 56.51L1605.26 62.51L1621.58 70.01L1637.90 73.01L1654.23 75.72L1670.55 90.42L1686.87 90.87L1703.19 91.62L1719.51 111.73L1735.84 122.98L1752.16 126.58L1768.48 172.04L1784.80 178.79L1801.12 184.79L1817.45 228.31L1833.77 250.06L1850.09 254.19L1866.41 257.56L1882.73 351.34L1899.06 666.42L1915.38 710.83L1931.70 710.83" fill="none" stroke="#00ffff" stroke-width="4.5" stroke-linejoin="round"/><circle cx="1131.92" cy="17.88" r="7" fill="#00ffff"/><circle cx="1148.24" cy="17.89" r="7" fill="#00ffff"/><circle cx="1164.57" cy="17.92" r="7" fill="#00ffff"/><circle cx="1180.89" cy="17.98" r="7" fill="#00ffff"/><circle cx="1197.21" cy="18.06" r="7" fill="#00ffff"/><circle cx="1213.53" cy="18.16" r="7" fill="#00ffff"/><circle cx="1229.85" cy="18.28" r="7" fill="#00ffff"/><circle cx="1246.18" cy="18.43" r="7" fill="#00ffff"/><circle cx="1262.50" cy="18.60" r="7" fill="#00ffff"/><circle cx="1278.82" cy="18.79" r="7" fill="#00ffff"/><circle cx="1295.14" cy="19.00" r="7" fill="#00ffff"/><circle cx="1311.46" cy="19.53" r="7" fill="#00ffff"/><circle cx="1327.79" cy="19.98" r="7" fill="#00ffff"/><circle cx="1344.11" cy="20.50" r="7" fill="#00ffff"/><circle cx="1360.43" cy="21.63" r="7" fill="#00ffff"/><circle cx="1376.75" cy="23.20" r="7" fill="#00ffff"/><circle cx="1393.07" cy="24.25" r="7" fill="#00ffff"/><circle cx="1409.40" cy="25.00" r="7" fill="#00ffff"/><circle cx="1425.72" cy="29.73" r="7" fill="#00ffff"/><circle cx="1442.04" cy="31.38" r="7" fill="#00ffff"/><circle cx="1458.36" cy="32.50" r="7" fill="#00ffff"/><circle cx="1474.68" cy="34.75" r="7" fill="#00ffff"/><circle cx="1491.01" cy="36.25" r="7" fill="#00ffff"/><circle cx="1507.33" cy="37.08" r="7" fill="#00ffff"/><circle cx="1523.65" cy="37.01" r="7" fill="#00ffff"/><circle cx="1539.97" cy="44.81" r="7" fill="#00ffff"/><circle cx="1556.29" cy="49.01" r="7" fill="#00ffff"/><circle cx="1572.62" cy="52.01" r="7" fill="#00ffff"/><circle cx="1588.94" cy="56.51" r="7" fill="#00ffff"/><circle cx="1605.26" cy="62.51" r="7" fill="#00ffff"/><circle cx="1621.58" cy="70.01" r="7" fill="#00ffff"/><circle cx="1637.90" cy="73.01" r="7" fill="#00ffff"/><circle cx="1654.23" cy="75.72" r="7" fill="#00ffff"/><circle cx="1670.55" cy="90.42" r="7" fill="#00ffff"/><circle cx="1686.87" cy="90.87" r="7" fill="#00ffff"/><circle cx="1703.19" cy="91.62" r="7" fill="#00ffff"/><circle cx="1719.51" cy="111.73" r="7" fill="#00ffff"/><circle cx="1735.84" cy="122.98" r="7" fill="#00ffff"/><circle cx="1752.16" cy="126.58" r="7" fill="#00ffff"/><circle cx="1768.48" cy="172.04" r="7" fill="#00ffff"/><circle cx="1784.80" cy="178.79" r="7" fill="#00ffff"/><circle cx="1801.12" cy="184.79" r="7" fill="#00ffff"/><circle cx="1817.45" cy="228.31" r="7" fill="#00ffff"/><circle cx="1833.77" cy="250.06" r="7" fill="#00ffff"/><circle cx="1850.09" cy="254.19" r="7" fill="#00ffff"/><circle cx="1866.41" cy="257.56" r="7" fill="#00ffff"/><circle cx="1882.73" cy="351.34" r="7" fill="#00ffff"/><circle cx="1899.06" cy="666.42" r="7" fill="#00ffff"/><circle cx="1915.38" cy="710.83" r="7" fill="#00ffff"/><circle cx="1931.70" cy="710.83" r="7" fill="#00ffff"/><rect x="1479.6" y="620.6" width="433.8" height="129" fill="#fff" stroke="#3a3a3a" stroke-width="1.5"/><path d="M1486.80 639.30H1555.30" stroke="#ff0000" stroke-width="4.5"/><rect x="1515.65" y="633.95" width="10.70" height="10.70" fill="none" stroke="#ff0000" stroke-width="4.5"/><text transform="translate(1561.60 648.60) scale(1.048 1)" class="lg">Seline Trustworthy-TSP routing</text><path d="M1486.80 670.00H1555.30" stroke="#00ff00" stroke-width="4.5"/><path d="M1521.00 657.00L1524.41 665.91L1533.93 666.40L1526.52 672.39L1528.99 681.60L1521.00 676.40L1513.01 681.60L1515.48 672.39L1508.07 666.40L1517.59 665.91Z" fill="#00ff00"/><text transform="translate(1561.60 679.30) scale(1.048 1)" class="lg">ACO-TSP routing</text><path d="M1486.80 700.70H1555.30" stroke="#0000ff" stroke-width="4.5"/><path d="M1521.00 691.80L1527.95 700.70L1521.00 709.60L1514.05 700.70Z" fill="none" stroke="#0000ff" stroke-width="4.5" stroke-miterlimit="10"/><text transform="translate(1561.60 710.00) scale(1.048 1)" class="lg">ABC-TSP routing</text><path d="M1486.80 731.40H1555.30" stroke="#00ffff" stroke-width="4.5"/><circle cx="1521.00" cy="731.40" r="7" fill="#00ffff"/><text transform="translate(1561.60 740.70) scale(1.048 1)" class="lg">PSO-TSP routing</text></g>
<g id="pc"><path d="M73.0 1003.5V1753.8" fill="none" stroke="#666" stroke-width="2"/><path d="M72.0 1753.8H888.8000000000001" fill="none" stroke="#626262" stroke-width="2"/><path d="M73.00 1753.8v-8.2" stroke="#3a3a3a" stroke-width="1.4"/><text x="73.00" y="1786.40" class="tk" text-anchor="middle">0</text><path d="M154.51 1753.8v-8.2" stroke="#3a3a3a" stroke-width="1.4"/><text x="154.51" y="1786.40" class="tk" text-anchor="middle">5</text><path d="M236.02 1753.8v-8.2" stroke="#3a3a3a" stroke-width="1.4"/><text x="236.02" y="1786.40" class="tk" text-anchor="middle">10</text><path d="M317.53 1753.8v-8.2" stroke="#3a3a3a" stroke-width="1.4"/><text x="317.53" y="1786.40" class="tk" text-anchor="middle">15</text><path d="M399.04 1753.8v-8.2" stroke="#3a3a3a" stroke-width="1.4"/><text x="399.04" y="1786.40" class="tk" text-anchor="middle">20</text><path d="M480.55 1753.8v-8.2" stroke="#3a3a3a" stroke-width="1.4"/><text x="480.55" y="1786.40" class="tk" text-anchor="middle">25</text><path d="M562.06 1753.8v-8.2" stroke="#3a3a3a" stroke-width="1.4"/><text x="562.06" y="1786.40" class="tk" text-anchor="middle">30</text><path d="M643.57 1753.8v-8.2" stroke="#3a3a3a" stroke-width="1.4"/><text x="643.57" y="1786.40" class="tk" text-anchor="middle">35</text><path d="M725.08 1753.8v-8.2" stroke="#3a3a3a" stroke-width="1.4"/><text x="725.08" y="1786.40" class="tk" text-anchor="middle">40</text><path d="M806.59 1753.8v-8.2" stroke="#3a3a3a" stroke-width="1.4"/><text x="806.59" y="1786.40" class="tk" text-anchor="middle">45</text><path d="M888.10 1753.8v-8.2" stroke="#3a3a3a" stroke-width="1.4"/><text x="888.10" y="1786.40" class="tk" text-anchor="middle">50</text><path d="M73.0 1753.80h8.2" stroke="#3a3a3a" stroke-width="1.4"/><text x="62.80" y="1763.10" class="tk" text-anchor="end">0</text><path d="M73.0 1678.86h8.2" stroke="#3a3a3a" stroke-width="1.4"/><text x="62.80" y="1688.16" class="tk" text-anchor="end">0.1</text><path d="M73.0 1603.92h8.2" stroke="#3a3a3a" stroke-width="1.4"/><text x="62.80" y="1613.22" class="tk" text-anchor="end">0.2</text><path d="M73.0 1528.98h8.2" stroke="#3a3a3a" stroke-width="1.4"/><text x="62.80" y="1538.28" class="tk" text-anchor="end">0.3</text><path d="M73.0 1454.04h8.2" stroke="#3a3a3a" stroke-width="1.4"/><text x="62.80" y="1463.34" class="tk" text-anchor="end">0.4</text><path d="M73.0 1379.10h8.2" stroke="#3a3a3a" stroke-width="1.4"/><text x="62.80" y="1388.40" class="tk" text-anchor="end">0.5</text><path d="M73.0 1304.16h8.2" stroke="#3a3a3a" stroke-width="1.4"/><text x="62.80" y="1313.46" class="tk" text-anchor="end">0.6</text><path d="M73.0 1229.22h8.2" stroke="#3a3a3a" stroke-width="1.4"/><text x="62.80" y="1238.52" class="tk" text-anchor="end">0.7</text><path d="M73.0 1154.28h8.2" stroke="#3a3a3a" stroke-width="1.4"/><text x="62.80" y="1163.58" class="tk" text-anchor="end">0.8</text><path d="M73.0 1079.34h8.2" stroke="#3a3a3a" stroke-width="1.4"/><text x="62.80" y="1088.64" class="tk" text-anchor="end">0.9</text><path d="M73.0 1004.40h8.2" stroke="#3a3a3a" stroke-width="1.4"/><text x="62.80" y="1013.70" class="tk" text-anchor="end">1</text><text transform="translate(480.55 1817.30) scale(1.03 1)" class="lb" text-anchor="middle">Rounds</text><text transform="translate(19.10 1379.10)  rotate(-90) scale(1.046 1)" class="lb" text-anchor="middle">Packer Delivery Ratio</text><text x="483.8" y="1895.6" class="sub" text-anchor="middle">c)</text><path d="M89.30 1006.20L105.60 1006.20L121.91 1006.22L138.21 1006.24L154.51 1006.28L170.81 1006.32L187.11 1006.37L203.42 1006.43L219.72 1006.50L236.02 1006.57L252.32 1006.64L268.62 1006.73L284.93 1006.81L301.23 1006.90L317.53 1007.00L333.83 1007.09L350.13 1007.19L366.44 1007.30L382.74 1007.40L399.04 1007.51L415.34 1007.65L431.64 1007.81L447.95 1007.99L464.25 1008.18L480.55 1008.39L496.85 1008.61L513.15 1008.83L529.46 1009.07L545.76 1009.31L562.06 1009.55L578.36 1009.78L594.66 1010.02L610.97 1010.24L627.27 1010.47L643.57 1010.74L659.87 1011.07L676.17 1011.54L692.48 1012.17L708.78 1012.93L725.08 1013.77L741.38 1014.76L757.68 1016.02L773.99 1017.59L790.29 1019.76L806.59 1023.51L822.89 1027.63L839.19 1031.08L855.50 1039.70L871.80 1057.01L888.10 1109.62" fill="none" stroke="#ff0000" stroke-width="4.5" stroke-linejoin="round"/><rect x="83.95" y="1000.85" width="10.70" height="10.70" fill="none" stroke="#ff0000" stroke-width="4.5"/><rect x="100.25" y="1000.85" width="10.70" height="10.70" fill="none" stroke="#ff0000" stroke-width="4.5"/><rect x="116.56" y="1000.87" width="10.70" height="10.70" fill="none" stroke="#ff0000" stroke-width="4.5"/><rect x="132.86" y="1000.89" width="10.70" height="10.70" fill="none" stroke="#ff0000" stroke-width="4.5"/><rect x="149.16" y="1000.93" width="10.70" height="10.70" fill="none" stroke="#ff0000" stroke-width="4.5"/><rect x="165.46" y="1000.97" width="10.70" height="10.70" fill="none" stroke="#ff0000" stroke-width="4.5"/><rect x="181.76" y="1001.02" width="10.70" height="10.70" fill="none" stroke="#ff0000" stroke-width="4.5"/><rect x="198.07" y="1001.08" width="10.70" height="10.70" fill="none" stroke="#ff0000" stroke-width="4.5"/><rect x="214.37" y="1001.15" width="10.70" height="10.70" fill="none" stroke="#ff0000" stroke-width="4.5"/><rect x="230.67" y="1001.22" width="10.70" height="10.70" fill="none" stroke="#ff0000" stroke-width="4.5"/><rect x="246.97" y="1001.29" width="10.70" height="10.70" fill="none" stroke="#ff0000" stroke-width="4.5"/><rect x="263.27" y="1001.38" width="10.70" height="10.70" fill="none" stroke="#ff0000" stroke-width="4.5"/><rect x="279.58" y="1001.46" width="10.70" height="10.70" fill="none" stroke="#ff0000" stroke-width="4.5"/><rect x="295.88" y="1001.55" width="10.70" height="10.70" fill="none" stroke="#ff0000" stroke-width="4.5"/><rect x="312.18" y="1001.65" width="10.70" height="10.70" fill="none" stroke="#ff0000" stroke-width="4.5"/><rect x="328.48" y="1001.74" width="10.70" height="10.70" fill="none" stroke="#ff0000" stroke-width="4.5"/><rect x="344.78" y="1001.84" width="10.70" height="10.70" fill="none" stroke="#ff0000" stroke-width="4.5"/><rect x="361.09" y="1001.95" width="10.70" height="10.70" fill="none" stroke="#ff0000" stroke-width="4.5"/><rect x="377.39" y="1002.05" width="10.70" height="10.70" fill="none" stroke="#ff0000" stroke-width="4.5"/><rect x="393.69" y="1002.16" width="10.70" height="10.70" fill="none" stroke="#ff0000" stroke-width="4.5"/><rect x="409.99" y="1002.30" width="10.70" height="10.70" fill="none" stroke="#ff0000" stroke-width="4.5"/><rect x="426.29" y="1002.46" width="10.70" height="10.70" fill="none" stroke="#ff0000" stroke-width="4.5"/><rect x="442.60" y="1002.64" width="10.70" height="10.70" fill="none" stroke="#ff0000" stroke-width="4.5"/><rect x="458.90" y="1002.83" width="10.70" height="10.70" fill="none" stroke="#ff0000" stroke-width="4.5"/><rect x="475.20" y="1003.04" width="10.70" height="10.70" fill="none" stroke="#ff0000" stroke-width="4.5"/><rect x="491.50" y="1003.26" width="10.70" height="10.70" fill="none" stroke="#ff0000" stroke-width="4.5"/><rect x="507.80" y="1003.48" width="10.70" height="10.70" fill="none" stroke="#ff0000" stroke-width="4.5"/><rect x="524.11" y="1003.72" width="10.70" height="10.70" fill="none" stroke="#ff0000" stroke-width="4.5"/><rect x="540.41" y="1003.96" width="10.70" height="10.70" fill="none" stroke="#ff0000" stroke-width="4.5"/><rect x="556.71" y="1004.20" width="10.70" height="10.70" fill="none" stroke="#ff0000" stroke-width="4.5"/><rect x="573.01" y="1004.43" width="10.70" height="10.70" fill="none" stroke="#ff0000" stroke-width="4.5"/><rect x="589.31" y="1004.67" width="10.70" height="10.70" fill="none" stroke="#ff0000" stroke-width="4.5"/><rect x="605.62" y="1004.89" width="10.70" height="10.70" fill="none" stroke="#ff0000" stroke-width="4.5"/><rect x="621.92" y="1005.12" width="10.70" height="10.70" fill="none" stroke="#ff0000" stroke-width="4.5"/><rect x="638.22" y="1005.39" width="10.70" height="10.70" fill="none" stroke="#ff0000" stroke-width="4.5"/><rect x="654.52" y="1005.72" width="10.70" height="10.70" fill="none" stroke="#ff0000" stroke-width="4.5"/><rect x="670.82" y="1006.19" width="10.70" height="10.70" fill="none" stroke="#ff0000" stroke-width="4.5"/><rect x="687.13" y="1006.82" width="10.70" height="10.70" fill="none" stroke="#ff0000" stroke-width="4.5"/><rect x="703.43" y="1007.58" width="10.70" height="10.70" fill="none" stroke="#ff0000" stroke-width="4.5"/><rect x="719.73" y="1008.42" width="10.70" height="10.70" fill="none" stroke="#ff0000" stroke-width="4.5"/><rect x="736.03" y="1009.41" width="10.70" height="10.70" fill="none" stroke="#ff0000" stroke-width="4.5"/><rect x="752.33" y="1010.67" width="10.70" height="10.70" fill="none" stroke="#ff0000" stroke-width="4.5"/><rect x="768.64" y="1012.24" width="10.70" height="10.70" fill="none" stroke="#ff0000" stroke-width="4.5"/><rect x="784.94" y="1014.41" width="10.70" height="10.70" fill="none" stroke="#ff0000" stroke-width="4.5"/><rect x="801.24" y="1018.16" width="10.70" height="10.70" fill="none" stroke="#ff0000" stroke-width="4.5"/><rect x="817.54" y="1022.28" width="10.70" height="10.70" fill="none" stroke="#ff0000" stroke-width="4.5"/><rect x="833.84" y="1025.73" width="10.70" height="10.70" fill="none" stroke="#ff0000" stroke-width="4.5"/><rect x="850.15" y="1034.35" width="10.70" height="10.70" fill="none" stroke="#ff0000" stroke-width="4.5"/><rect x="866.45" y="1051.66" width="10.70" height="10.70" fill="none" stroke="#ff0000" stroke-width="4.5"/><rect x="882.75" y="1104.27" width="10.70" height="10.70" fill="none" stroke="#ff0000" stroke-width="4.5"/><path d="M89.30 1007.70L105.60 1007.82L121.91 1007.96L138.21 1008.10L154.51 1008.25L170.81 1008.41L187.11 1008.58L203.42 1008.76L219.72 1008.95L236.02 1009.14L252.32 1009.34L268.62 1009.55L284.93 1009.76L301.23 1009.98L317.53 1010.21L333.83 1010.43L350.13 1010.67L366.44 1010.90L382.74 1011.14L399.04 1011.39L415.34 1011.63L431.64 1011.87L447.95 1012.12L464.25 1012.38L480.55 1012.65L496.85 1012.95L513.15 1013.26L529.46 1013.60L545.76 1013.96L562.06 1014.36L578.36 1014.79L594.66 1015.27L610.97 1015.87L627.27 1016.64L643.57 1017.53L659.87 1018.49L676.17 1019.55L692.48 1020.77L708.78 1022.06L725.08 1023.36L741.38 1024.51L757.68 1026.06L773.99 1029.97L790.29 1035.13L806.59 1039.70L822.89 1046.07L839.19 1053.64L855.50 1073.79L871.80 1108.19L888.10 1213.86" fill="none" stroke="#00ff00" stroke-width="4.5" stroke-linejoin="round"/><path d="M89.30 994.70L92.71 1003.61L102.24 1004.09L94.82 1010.09L97.30 1019.30L89.30 1014.10L81.31 1019.30L83.79 1010.09L76.37 1004.09L85.89 1003.61Z" fill="#00ff00"/><path d="M105.60 994.82L109.01 1003.73L118.54 1004.22L111.12 1010.21L113.60 1019.42L105.60 1014.22L97.61 1019.42L100.09 1010.21L92.67 1004.22L102.19 1003.73Z" fill="#00ff00"/><path d="M121.91 994.96L125.32 1003.86L134.84 1004.35L127.42 1010.35L129.90 1019.56L121.91 1014.36L113.91 1019.56L116.39 1010.35L108.97 1004.35L118.50 1003.86Z" fill="#00ff00"/><path d="M138.21 995.10L141.62 1004.01L151.14 1004.50L143.72 1010.49L146.20 1019.70L138.21 1014.50L130.21 1019.70L132.69 1010.49L125.27 1004.50L134.80 1004.01Z" fill="#00ff00"/><path d="M154.51 995.25L157.92 1004.16L167.44 1004.65L160.03 1010.64L162.50 1019.85L154.51 1014.65L146.52 1019.85L148.99 1010.64L141.58 1004.65L151.10 1004.16Z" fill="#00ff00"/><path d="M170.81 995.41L174.22 1004.32L183.75 1004.81L176.33 1010.81L178.81 1020.02L170.81 1014.81L162.82 1020.02L165.30 1010.81L157.88 1004.81L167.40 1004.32Z" fill="#00ff00"/><path d="M187.11 995.58L190.52 1004.49L200.05 1004.98L192.63 1010.98L195.11 1020.19L187.11 1014.98L179.12 1020.19L181.60 1010.98L174.18 1004.98L183.70 1004.49Z" fill="#00ff00"/><path d="M203.42 995.76L206.83 1004.67L216.35 1005.16L208.93 1011.16L211.41 1020.37L203.42 1015.16L195.42 1020.37L197.90 1011.16L190.48 1005.16L200.01 1004.67Z" fill="#00ff00"/><path d="M219.72 995.95L223.13 1004.86L232.65 1005.35L225.23 1011.34L227.71 1020.55L219.72 1015.35L211.72 1020.55L214.20 1011.34L206.78 1005.35L216.31 1004.86Z" fill="#00ff00"/><path d="M236.02 996.14L239.43 1005.05L248.95 1005.54L241.54 1011.54L244.01 1020.75L236.02 1015.54L228.03 1020.75L230.50 1011.54L223.09 1005.54L232.61 1005.05Z" fill="#00ff00"/><path d="M252.32 996.34L255.73 1005.25L265.26 1005.74L257.84 1011.74L260.32 1020.95L252.32 1015.74L244.33 1020.95L246.81 1011.74L239.39 1005.74L248.91 1005.25Z" fill="#00ff00"/><path d="M268.62 996.55L272.03 1005.46L281.56 1005.95L274.14 1011.94L276.62 1021.15L268.62 1015.95L260.63 1021.15L263.11 1011.94L255.69 1005.95L265.21 1005.46Z" fill="#00ff00"/><path d="M284.93 996.76L288.34 1005.67L297.86 1006.16L290.44 1012.16L292.92 1021.37L284.93 1016.16L276.93 1021.37L279.41 1012.16L271.99 1006.16L281.52 1005.67Z" fill="#00ff00"/><path d="M301.23 996.98L304.64 1005.89L314.16 1006.38L306.74 1012.37L309.22 1021.58L301.23 1016.38L293.23 1021.58L295.71 1012.37L288.29 1006.38L297.82 1005.89Z" fill="#00ff00"/><path d="M317.53 997.21L320.94 1006.11L330.46 1006.60L323.05 1012.60L325.52 1021.81L317.53 1016.61L309.54 1021.81L312.01 1012.60L304.60 1006.60L314.12 1006.11Z" fill="#00ff00"/><path d="M333.83 997.43L337.24 1006.34L346.77 1006.83L339.35 1012.83L341.83 1022.04L333.83 1016.83L325.84 1022.04L328.32 1012.83L320.90 1006.83L330.42 1006.34Z" fill="#00ff00"/><path d="M350.13 997.67L353.54 1006.58L363.07 1007.06L355.65 1013.06L358.13 1022.27L350.13 1017.07L342.14 1022.27L344.62 1013.06L337.20 1007.06L346.72 1006.58Z" fill="#00ff00"/><path d="M366.44 997.90L369.85 1006.81L379.37 1007.30L371.95 1013.30L374.43 1022.51L366.44 1017.30L358.44 1022.51L360.92 1013.30L353.50 1007.30L363.03 1006.81Z" fill="#00ff00"/><path d="M382.74 998.14L386.15 1007.05L395.67 1007.54L388.25 1013.54L390.73 1022.75L382.74 1017.54L374.74 1022.75L377.22 1013.54L369.80 1007.54L379.33 1007.05Z" fill="#00ff00"/><path d="M399.04 998.39L402.45 1007.29L411.97 1007.78L404.56 1013.78L407.03 1022.99L399.04 1017.79L391.05 1022.99L393.52 1013.78L386.11 1007.78L395.63 1007.29Z" fill="#00ff00"/><path d="M415.34 998.63L418.75 1007.53L428.28 1008.02L420.86 1014.02L423.34 1023.23L415.34 1018.03L407.35 1023.23L409.83 1014.02L402.41 1008.02L411.93 1007.53Z" fill="#00ff00"/><path d="M431.64 998.87L435.05 1007.78L444.58 1008.27L437.16 1014.26L439.64 1023.47L431.64 1018.27L423.65 1023.47L426.13 1014.26L418.71 1008.27L428.23 1007.78Z" fill="#00ff00"/><path d="M447.95 999.12L451.36 1008.03L460.88 1008.52L453.46 1014.51L455.94 1023.72L447.95 1018.52L439.95 1023.72L442.43 1014.51L435.01 1008.52L444.54 1008.03Z" fill="#00ff00"/><path d="M464.25 999.38L467.66 1008.29L477.18 1008.78L469.76 1014.77L472.24 1023.98L464.25 1018.78L456.25 1023.98L458.73 1014.77L451.31 1008.78L460.84 1008.29Z" fill="#00ff00"/><path d="M480.55 999.65L483.96 1008.56L493.48 1009.05L486.07 1015.05L488.54 1024.26L480.55 1019.05L472.56 1024.26L475.03 1015.05L467.62 1009.05L477.14 1008.56Z" fill="#00ff00"/><path d="M496.85 999.95L500.26 1008.85L509.79 1009.34L502.37 1015.34L504.85 1024.55L496.85 1019.35L488.86 1024.55L491.34 1015.34L483.92 1009.34L493.44 1008.85Z" fill="#00ff00"/><path d="M513.15 1000.26L516.56 1009.17L526.09 1009.66L518.67 1015.65L521.15 1024.86L513.15 1019.66L505.16 1024.86L507.64 1015.65L500.22 1009.66L509.74 1009.17Z" fill="#00ff00"/><path d="M529.46 1000.60L532.87 1009.50L542.39 1009.99L534.97 1015.99L537.45 1025.20L529.46 1020.00L521.46 1025.20L523.94 1015.99L516.52 1009.99L526.05 1009.50Z" fill="#00ff00"/><path d="M545.76 1000.96L549.17 1009.87L558.69 1010.36L551.27 1016.36L553.75 1025.57L545.76 1020.36L537.76 1025.57L540.24 1016.36L532.82 1010.36L542.35 1009.87Z" fill="#00ff00"/><path d="M562.06 1001.36L565.47 1010.27L574.99 1010.76L567.58 1016.75L570.05 1025.96L562.06 1020.76L554.07 1025.96L556.54 1016.75L549.13 1010.76L558.65 1010.27Z" fill="#00ff00"/><path d="M578.36 1001.79L581.77 1010.70L591.30 1011.19L583.88 1017.19L586.36 1026.40L578.36 1021.19L570.37 1026.40L572.85 1017.19L565.43 1011.19L574.95 1010.70Z" fill="#00ff00"/><path d="M594.66 1002.27L598.07 1011.17L607.60 1011.66L600.18 1017.66L602.66 1026.87L594.66 1021.67L586.67 1026.87L589.15 1017.66L581.73 1011.66L591.25 1011.17Z" fill="#00ff00"/><path d="M610.97 1002.87L614.38 1011.77L623.90 1012.26L616.48 1018.26L618.96 1027.47L610.97 1022.27L602.97 1027.47L605.45 1018.26L598.03 1012.26L607.56 1011.77Z" fill="#00ff00"/><path d="M627.27 1003.64L630.68 1012.55L640.20 1013.04L632.78 1019.03L635.26 1028.24L627.27 1023.04L619.27 1028.24L621.75 1019.03L614.33 1013.04L623.86 1012.55Z" fill="#00ff00"/><path d="M643.57 1004.53L646.98 1013.44L656.50 1013.93L649.09 1019.92L651.56 1029.13L643.57 1023.93L635.58 1029.13L638.05 1019.92L630.64 1013.93L640.16 1013.44Z" fill="#00ff00"/><path d="M659.87 1005.49L663.28 1014.40L672.81 1014.89L665.39 1020.88L667.87 1030.09L659.87 1024.89L651.88 1030.09L654.36 1020.88L646.94 1014.89L656.46 1014.40Z" fill="#00ff00"/><path d="M676.17 1006.55L679.58 1015.46L689.11 1015.95L681.69 1021.95L684.17 1031.16L676.17 1025.95L668.18 1031.16L670.66 1021.95L663.24 1015.95L672.76 1015.46Z" fill="#00ff00"/><path d="M692.48 1007.77L695.89 1016.67L705.41 1017.16L697.99 1023.16L700.47 1032.37L692.48 1027.17L684.48 1032.37L686.96 1023.16L679.54 1017.16L689.07 1016.67Z" fill="#00ff00"/><path d="M708.78 1009.06L712.19 1017.96L721.71 1018.45L714.29 1024.45L716.77 1033.66L708.78 1028.46L700.78 1033.66L703.26 1024.45L695.84 1018.45L705.37 1017.96Z" fill="#00ff00"/><path d="M725.08 1010.36L728.49 1019.27L738.01 1019.76L730.60 1025.75L733.07 1034.96L725.08 1029.76L717.09 1034.96L719.56 1025.75L712.15 1019.76L721.67 1019.27Z" fill="#00ff00"/><path d="M741.38 1011.51L744.79 1020.42L754.32 1020.91L746.90 1026.90L749.38 1036.11L741.38 1030.91L733.39 1036.11L735.87 1026.90L728.45 1020.91L737.97 1020.42Z" fill="#00ff00"/><path d="M757.68 1013.06L761.09 1021.97L770.62 1022.46L763.20 1028.45L765.68 1037.66L757.68 1032.46L749.69 1037.66L752.17 1028.45L744.75 1022.46L754.27 1021.97Z" fill="#00ff00"/><path d="M773.99 1016.97L777.40 1025.88L786.92 1026.37L779.50 1032.36L781.98 1041.58L773.99 1036.37L765.99 1041.58L768.47 1032.36L761.05 1026.37L770.58 1025.88Z" fill="#00ff00"/><path d="M790.29 1022.13L793.70 1031.03L803.22 1031.52L795.80 1037.52L798.28 1046.73L790.29 1041.53L782.29 1046.73L784.77 1037.52L777.35 1031.52L786.88 1031.03Z" fill="#00ff00"/><path d="M806.59 1026.70L810.00 1035.60L819.52 1036.09L812.11 1042.09L814.58 1051.30L806.59 1046.10L798.60 1051.30L801.07 1042.09L793.66 1036.09L803.18 1035.60Z" fill="#00ff00"/><path d="M822.89 1033.07L826.30 1041.97L835.83 1042.46L828.41 1048.46L830.89 1057.67L822.89 1052.47L814.90 1057.67L817.38 1048.46L809.96 1042.46L819.48 1041.97Z" fill="#00ff00"/><path d="M839.19 1040.64L842.60 1049.54L852.13 1050.03L844.71 1056.03L847.19 1065.24L839.19 1060.04L831.20 1065.24L833.68 1056.03L826.26 1050.03L835.78 1049.54Z" fill="#00ff00"/><path d="M855.50 1060.79L858.91 1069.70L868.43 1070.19L861.01 1076.19L863.49 1085.40L855.50 1080.19L847.50 1085.40L849.98 1076.19L842.56 1070.19L852.09 1069.70Z" fill="#00ff00"/><path d="M871.80 1095.19L875.21 1104.10L884.73 1104.59L877.31 1110.58L879.79 1119.79L871.80 1114.59L863.80 1119.79L866.28 1110.58L858.86 1104.59L868.39 1104.10Z" fill="#00ff00"/><path d="M888.10 1200.86L891.51 1209.77L901.03 1210.25L893.62 1216.25L896.09 1225.46L888.10 1220.26L880.11 1225.46L882.58 1216.25L875.17 1210.25L884.69 1209.77Z" fill="#00ff00"/><path d="M89.30 1010.69L105.60 1010.75L121.91 1010.83L138.21 1010.94L154.51 1011.07L170.81 1011.23L187.11 1011.42L203.42 1011.62L219.72 1011.84L236.02 1012.09L252.32 1012.35L268.62 1012.62L284.93 1012.91L301.23 1013.21L317.53 1013.52L333.83 1013.85L350.13 1014.17L366.44 1014.51L382.74 1014.85L399.04 1015.19L415.34 1015.54L431.64 1015.90L447.95 1016.28L464.25 1016.69L480.55 1017.13L496.85 1017.62L513.15 1018.16L529.46 1018.76L545.76 1019.43L562.06 1020.18L578.36 1021.01L594.66 1021.94L610.97 1023.58L627.27 1024.71L643.57 1025.31L659.87 1025.91L676.17 1028.46L692.48 1030.10L708.78 1031.68L725.08 1034.38L741.38 1037.75L757.68 1040.90L773.99 1045.77L790.29 1051.09L806.59 1059.33L822.89 1070.20L839.19 1086.38L855.50 1113.51L871.80 1168.97L888.10 1334.29" fill="none" stroke="#0000ff" stroke-width="4.5" stroke-linejoin="round"/><path d="M89.30 1001.79L96.25 1010.69L89.30 1019.59L82.35 1010.69Z" fill="none" stroke="#0000ff" stroke-width="4.5" stroke-miterlimit="10"/><path d="M105.60 1001.85L112.55 1010.75L105.60 1019.65L98.65 1010.75Z" fill="none" stroke="#0000ff" stroke-width="4.5" stroke-miterlimit="10"/><path d="M121.91 1001.93L128.86 1010.83L121.91 1019.73L114.96 1010.83Z" fill="none" stroke="#0000ff" stroke-width="4.5" stroke-miterlimit="10"/><path d="M138.21 1002.04L145.16 1010.94L138.21 1019.84L131.26 1010.94Z" fill="none" stroke="#0000ff" stroke-width="4.5" stroke-miterlimit="10"/><path d="M154.51 1002.17L161.46 1011.07L154.51 1019.97L147.56 1011.07Z" fill="none" stroke="#0000ff" stroke-width="4.5" stroke-miterlimit="10"/><path d="M170.81 1002.33L177.76 1011.23L170.81 1020.13L163.86 1011.23Z" fill="none" stroke="#0000ff" stroke-width="4.5" stroke-miterlimit="10"/><path d="M187.11 1002.52L194.06 1011.42L187.11 1020.32L180.16 1011.42Z" fill="none" stroke="#0000ff" stroke-width="4.5" stroke-miterlimit="10"/><path d="M203.42 1002.72L210.37 1011.62L203.42 1020.52L196.47 1011.62Z" fill="none" stroke="#0000ff" stroke-width="4.5" stroke-miterlimit="10"/><path d="M219.72 1002.94L226.67 1011.84L219.72 1020.74L212.77 1011.84Z" fill="none" stroke="#0000ff" stroke-width="4.5" stroke-miterlimit="10"/><path d="M236.02 1003.19L242.97 1012.09L236.02 1020.99L229.07 1012.09Z" fill="none" stroke="#0000ff" stroke-width="4.5" stroke-miterlimit="10"/><path d="M252.32 1003.45L259.27 1012.35L252.32 1021.25L245.37 1012.35Z" fill="none" stroke="#0000ff" stroke-width="4.5" stroke-miterlimit="10"/><path d="M268.62 1003.72L275.57 1012.62L268.62 1021.52L261.67 1012.62Z" fill="none" stroke="#0000ff" stroke-width="4.5" stroke-miterlimit="10"/><path d="M284.93 1004.01L291.88 1012.91L284.93 1021.81L277.98 1012.91Z" fill="none" stroke="#0000ff" stroke-width="4.5" stroke-miterlimit="10"/><path d="M301.23 1004.31L308.18 1013.21L301.23 1022.11L294.28 1013.21Z" fill="none" stroke="#0000ff" stroke-width="4.5" stroke-miterlimit="10"/><path d="M317.53 1004.62L324.48 1013.52L317.53 1022.42L310.58 1013.52Z" fill="none" stroke="#0000ff" stroke-width="4.5" stroke-miterlimit="10"/><path d="M333.83 1004.95L340.78 1013.85L333.83 1022.75L326.88 1013.85Z" fill="none" stroke="#0000ff" stroke-width="4.5" stroke-miterlimit="10"/><path d="M350.13 1005.27L357.08 1014.17L350.13 1023.07L343.18 1014.17Z" fill="none" stroke="#0000ff" stroke-width="4.5" stroke-miterlimit="10"/><path d="M366.44 1005.61L373.39 1014.51L366.44 1023.41L359.49 1014.51Z" fill="none" stroke="#0000ff" stroke-width="4.5" stroke-miterlimit="10"/><path d="M382.74 1005.95L389.69 1014.85L382.74 1023.75L375.79 1014.85Z" fill="none" stroke="#0000ff" stroke-width="4.5" stroke-miterlimit="10"/><path d="M399.04 1006.29L405.99 1015.19L399.04 1024.09L392.09 1015.19Z" fill="none" stroke="#0000ff" stroke-width="4.5" stroke-miterlimit="10"/><path d="M415.34 1006.64L422.29 1015.54L415.34 1024.44L408.39 1015.54Z" fill="none" stroke="#0000ff" stroke-width="4.5" stroke-miterlimit="10"/><path d="M431.64 1007.00L438.59 1015.90L431.64 1024.80L424.69 1015.90Z" fill="none" stroke="#0000ff" stroke-width="4.5" stroke-miterlimit="10"/><path d="M447.95 1007.38L454.90 1016.28L447.95 1025.18L441.00 1016.28Z" fill="none" stroke="#0000ff" stroke-width="4.5" stroke-miterlimit="10"/><path d="M464.25 1007.79L471.20 1016.69L464.25 1025.59L457.30 1016.69Z" fill="none" stroke="#0000ff" stroke-width="4.5" stroke-miterlimit="10"/><path d="M480.55 1008.23L487.50 1017.13L480.55 1026.03L473.60 1017.13Z" fill="none" stroke="#0000ff" stroke-width="4.5" stroke-miterlimit="10"/><path d="M496.85 1008.72L503.80 1017.62L496.85 1026.52L489.90 1017.62Z" fill="none" stroke="#0000ff" stroke-width="4.5" stroke-miterlimit="10"/><path d="M513.15 1009.26L520.10 1018.16L513.15 1027.06L506.20 1018.16Z" fill="none" stroke="#0000ff" stroke-width="4.5" stroke-miterlimit="10"/><path d="M529.46 1009.86L536.41 1018.76L529.46 1027.66L522.51 1018.76Z" fill="none" stroke="#0000ff" stroke-width="4.5" stroke-miterlimit="10"/><path d="M545.76 1010.53L552.71 1019.43L545.76 1028.33L538.81 1019.43Z" fill="none" stroke="#0000ff" stroke-width="4.5" stroke-miterlimit="10"/><path d="M562.06 1011.28L569.01 1020.18L562.06 1029.08L555.11 1020.18Z" fill="none" stroke="#0000ff" stroke-width="4.5" stroke-miterlimit="10"/><path d="M578.36 1012.11L585.31 1021.01L578.36 1029.91L571.41 1021.01Z" fill="none" stroke="#0000ff" stroke-width="4.5" stroke-miterlimit="10"/><path d="M594.66 1013.04L601.61 1021.94L594.66 1030.84L587.71 1021.94Z" fill="none" stroke="#0000ff" stroke-width="4.5" stroke-miterlimit="10"/><path d="M610.97 1014.68L617.92 1023.58L610.97 1032.48L604.02 1023.58Z" fill="none" stroke="#0000ff" stroke-width="4.5" stroke-miterlimit="10"/><path d="M627.27 1015.81L634.22 1024.71L627.27 1033.61L620.32 1024.71Z" fill="none" stroke="#0000ff" stroke-width="4.5" stroke-miterlimit="10"/><path d="M643.57 1016.41L650.52 1025.31L643.57 1034.21L636.62 1025.31Z" fill="none" stroke="#0000ff" stroke-width="4.5" stroke-miterlimit="10"/><path d="M659.87 1017.01L666.82 1025.91L659.87 1034.81L652.92 1025.91Z" fill="none" stroke="#0000ff" stroke-width="4.5" stroke-miterlimit="10"/><path d="M676.17 1019.56L683.12 1028.46L676.17 1037.36L669.22 1028.46Z" fill="none" stroke="#0000ff" stroke-width="4.5" stroke-miterlimit="10"/><path d="M692.48 1021.20L699.43 1030.10L692.48 1039.00L685.53 1030.10Z" fill="none" stroke="#0000ff" stroke-width="4.5" stroke-miterlimit="10"/><path d="M708.78 1022.78L715.73 1031.68L708.78 1040.58L701.83 1031.68Z" fill="none" stroke="#0000ff" stroke-width="4.5" stroke-miterlimit="10"/><path d="M725.08 1025.48L732.03 1034.38L725.08 1043.28L718.13 1034.38Z" fill="none" stroke="#0000ff" stroke-width="4.5" stroke-miterlimit="10"/><path d="M741.38 1028.85L748.33 1037.75L741.38 1046.65L734.43 1037.75Z" fill="none" stroke="#0000ff" stroke-width="4.5" stroke-miterlimit="10"/><path d="M757.68 1032.00L764.63 1040.90L757.68 1049.80L750.73 1040.90Z" fill="none" stroke="#0000ff" stroke-width="4.5" stroke-miterlimit="10"/><path d="M773.99 1036.87L780.94 1045.77L773.99 1054.67L767.04 1045.77Z" fill="none" stroke="#0000ff" stroke-width="4.5" stroke-miterlimit="10"/><path d="M790.29 1042.19L797.24 1051.09L790.29 1059.99L783.34 1051.09Z" fill="none" stroke="#0000ff" stroke-width="4.5" stroke-miterlimit="10"/><path d="M806.59 1050.43L813.54 1059.33L806.59 1068.23L799.64 1059.33Z" fill="none" stroke="#0000ff" stroke-width="4.5" stroke-miterlimit="10"/><path d="M822.89 1061.30L829.84 1070.20L822.89 1079.10L815.94 1070.20Z" fill="none" stroke="#0000ff" stroke-width="4.5" stroke-miterlimit="10"/><path d="M839.19 1077.48L846.14 1086.38L839.19 1095.28L832.24 1086.38Z" fill="none" stroke="#0000ff" stroke-width="4.5" stroke-miterlimit="10"/><path d="M855.50 1104.61L862.45 1113.51L855.50 1122.41L848.55 1113.51Z" fill="none" stroke="#0000ff" stroke-width="4.5" stroke-miterlimit="10"/><path d="M871.80 1160.07L878.75 1168.97L871.80 1177.87L864.85 1168.97Z" fill="none" stroke="#0000ff" stroke-width="4.5" stroke-miterlimit="10"/><path d="M888.10 1325.39L895.05 1334.29L888.10 1343.19L881.15 1334.29Z" fill="none" stroke="#0000ff" stroke-width="4.5" stroke-miterlimit="10"/><path d="M89.30 1018.64L105.60 1018.66L121.91 1018.72L138.21 1018.83L154.51 1018.98L170.81 1019.16L187.11 1019.39L203.42 1019.65L219.72 1019.95L236.02 1020.28L252.32 1020.65L268.62 1021.05L284.93 1021.49L301.23 1021.95L317.53 1022.45L333.83 1022.97L350.13 1023.52L366.44 1024.10L382.74 1024.71L399.04 1025.83L415.34 1026.94L431.64 1027.99L447.95 1028.99L464.25 1029.97L480.55 1030.96L496.85 1031.99L513.15 1033.08L529.46 1034.25L545.76 1035.53L562.06 1036.95L578.36 1038.53L594.66 1040.30L610.97 1042.99L627.27 1045.09L643.57 1047.79L659.87 1050.49L676.17 1053.79L692.48 1057.61L708.78 1061.88L725.08 1066.83L741.38 1073.19L757.68 1080.84L773.99 1090.51L790.29 1102.57L806.59 1118.68L822.89 1141.77L839.19 1176.46L855.50 1233.79L871.80 1348.67L888.10 1694.60" fill="none" stroke="#00ffff" stroke-width="4.5" stroke-linejoin="round"/><circle cx="89.30" cy="1018.64" r="7" fill="#00ffff"/><circle cx="105.60" cy="1018.66" r="7" fill="#00ffff"/><circle cx="121.91" cy="1018.72" r="7" fill="#00ffff"/><circle cx="138.21" cy="1018.83" r="7" fill="#00ffff"/><circle cx="154.51" cy="1018.98" r="7" fill="#00ffff"/><circle cx="170.81" cy="1019.16" r="7" fill="#00ffff"/><circle cx="187.11" cy="1019.39" r="7" fill="#00ffff"/><circle cx="203.42" cy="1019.65" r="7" fill="#00ffff"/><circle cx="219.72" cy="1019.95" r="7" fill="#00ffff"/><circle cx="236.02" cy="1020.28" r="7" fill="#00ffff"/><circle cx="252.32" cy="1020.65" r="7" fill="#00ffff"/><circle cx="268.62" cy="1021.05" r="7" fill="#00ffff"/><circle cx="284.93" cy="1021.49" r="7" fill="#00ffff"/><circle cx="301.23" cy="1021.95" r="7" fill="#00ffff"/><circle cx="317.53" cy="1022.45" r="7" fill="#00ffff"/><circle cx="333.83" cy="1022.97" r="7" fill="#00ffff"/><circle cx="350.13" cy="1023.52" r="7" fill="#00ffff"/><circle cx="366.44" cy="1024.10" r="7" fill="#00ffff"/><circle cx="382.74" cy="1024.71" r="7" fill="#00ffff"/><circle cx="399.04" cy="1025.83" r="7" fill="#00ffff"/><circle cx="415.34" cy="1026.94" r="7" fill="#00ffff"/><circle cx="431.64" cy="1027.99" r="7" fill="#00ffff"/><circle cx="447.95" cy="1028.99" r="7" fill="#00ffff"/><circle cx="464.25" cy="1029.97" r="7" fill="#00ffff"/><circle cx="480.55" cy="1030.96" r="7" fill="#00ffff"/><circle cx="496.85" cy="1031.99" r="7" fill="#00ffff"/><circle cx="513.15" cy="1033.08" r="7" fill="#00ffff"/><circle cx="529.46" cy="1034.25" r="7" fill="#00ffff"/><circle cx="545.76" cy="1035.53" r="7" fill="#00ffff"/><circle cx="562.06" cy="1036.95" r="7" fill="#00ffff"/><circle cx="578.36" cy="1038.53" r="7" fill="#00ffff"/><circle cx="594.66" cy="1040.30" r="7" fill="#00ffff"/><circle cx="610.97" cy="1042.99" r="7" fill="#00ffff"/><circle cx="627.27" cy="1045.09" r="7" fill="#00ffff"/><circle cx="643.57" cy="1047.79" r="7" fill="#00ffff"/><circle cx="659.87" cy="1050.49" r="7" fill="#00ffff"/><circle cx="676.17" cy="1053.79" r="7" fill="#00ffff"/><circle cx="692.48" cy="1057.61" r="7" fill="#00ffff"/><circle cx="708.78" cy="1061.88" r="7" fill="#00ffff"/><circle cx="725.08" cy="1066.83" r="7" fill="#00ffff"/><circle cx="741.38" cy="1073.19" r="7" fill="#00ffff"/><circle cx="757.68" cy="1080.84" r="7" fill="#00ffff"/><circle cx="773.99" cy="1090.51" r="7" fill="#00ffff"/><circle cx="790.29" cy="1102.57" r="7" fill="#00ffff"/><circle cx="806.59" cy="1118.68" r="7" fill="#00ffff"/><circle cx="822.89" cy="1141.77" r="7" fill="#00ffff"/><circle cx="839.19" cy="1176.46" r="7" fill="#00ffff"/><circle cx="855.50" cy="1233.79" r="7" fill="#00ffff"/><circle cx="871.80" cy="1348.67" r="7" fill="#00ffff"/><circle cx="888.10" cy="1694.60" r="7" fill="#00ffff"/><rect x="436.5" y="1607.0" width="433.8" height="129" fill="#fff" stroke="#3a3a3a" stroke-width="1.5"/><path d="M443.70 1625.70H512.20" stroke="#ff0000" stroke-width="4.5"/><rect x="472.55" y="1620.35" width="10.70" height="10.70" fill="none" stroke="#ff0000" stroke-width="4.5"/><text transform="translate(518.50 1635.00) scale(1.048 1)" class="lg">Seline Trustworthy-TSP routing</text><path d="M443.70 1656.40H512.20" stroke="#00ff00" stroke-width="4.5"/><path d="M477.90 1643.40L481.31 1652.31L490.83 1652.80L483.42 1658.79L485.89 1668.00L477.90 1662.80L469.91 1668.00L472.38 1658.79L464.97 1652.80L474.49 1652.31Z" fill="#00ff00"/><text transform="translate(518.50 1665.70) scale(1.048 1)" class="lg">ACO-TSP routing</text><path d="M443.70 1687.10H512.20" stroke="#0000ff" stroke-width="4.5"/><path d="M477.90 1678.20L484.85 1687.10L477.90 1696.00L470.95 1687.10Z" fill="none" stroke="#0000ff" stroke-width="4.5" stroke-miterlimit="10"/><text transform="translate(518.50 1696.40) scale(1.048 1)" class="lg">ABC-TSP routing</text><path d="M443.70 1717.80H512.20" stroke="#00ffff" stroke-width="4.5"/><circle cx="477.90" cy="1717.80" r="7" fill="#00ffff"/><text transform="translate(518.50 1727.10) scale(1.048 1)" class="lg">PSO-TSP routing</text></g>
<g id="pd"><path d="M1115.7 1003.5V1754.0" fill="none" stroke="#666" stroke-width="2"/><path d="M1114.7 1754.0H1932.3" fill="none" stroke="#626262" stroke-width="2"/><path d="M1115.7 1004.4H1931.6" fill="none" stroke="#505050" stroke-width="1.8"/><path d="M1931.6 1004.4V1754.0" fill="none" stroke="#333" stroke-width="1.3"/><path d="M1115.70 1754.0v-8.2" stroke="#3a3a3a" stroke-width="1.4"/><path d="M1115.70 1004.4v8.2" stroke="#3a3a3a" stroke-width="1.4"/><text x="1115.70" y="1786.60" class="tk" text-anchor="middle">0</text><path d="M1197.29 1754.0v-8.2" stroke="#3a3a3a" stroke-width="1.4"/><path d="M1197.29 1004.4v8.2" stroke="#3a3a3a" stroke-width="1.4"/><text x="1197.29" y="1786.60" class="tk" text-anchor="middle">5</text><path d="M1278.88 1754.0v-8.2" stroke="#3a3a3a" stroke-width="1.4"/><path d="M1278.88 1004.4v8.2" stroke="#3a3a3a" stroke-width="1.4"/><text x="1278.88" y="1786.60" class="tk" text-anchor="middle">10</text><path d="M1360.47 1754.0v-8.2" stroke="#3a3a3a" stroke-width="1.4"/><path d="M1360.47 1004.4v8.2" stroke="#3a3a3a" stroke-width="1.4"/><text x="1360.47" y="1786.60" class="tk" text-anchor="middle">15</text><path d="M1442.06 1754.0v-8.2" stroke="#3a3a3a" stroke-width="1.4"/><path d="M1442.06 1004.4v8.2" stroke="#3a3a3a" stroke-width="1.4"/><text x="1442.06" y="1786.60" class="tk" text-anchor="middle">20</text><path d="M1523.65 1754.0v-8.2" stroke="#3a3a3a" stroke-width="1.4"/><path d="M1523.65 1004.4v8.2" stroke="#3a3a3a" stroke-width="1.4"/><text x="1523.65" y="1786.60" class="tk" text-anchor="middle">25</text><path d="M1605.24 1754.0v-8.2" stroke="#3a3a3a" stroke-width="1.4"/><path d="M1605.24 1004.4v8.2" stroke="#3a3a3a" stroke-width="1.4"/><text x="1605.24" y="1786.60" class="tk" text-anchor="middle">30</text><path d="M1686.83 1754.0v-8.2" stroke="#3a3a3a" stroke-width="1.4"/><path d="M1686.83 1004.4v8.2" stroke="#3a3a3a" stroke-width="1.4"/><text x="1686.83" y="1786.60" class="tk" text-anchor="middle">35</text><path d="M1768.42 1754.0v-8.2" stroke="#3a3a3a" stroke-width="1.4"/><path d="M1768.42 1004.4v8.2" stroke="#3a3a3a" stroke-width="1.4"/><text x="1768.42" y="1786.60" class="tk" text-anchor="middle">40</text><path d="M1850.01 1754.0v-8.2" stroke="#3a3a3a" stroke-width="1.4"/><path d="M1850.01 1004.4v8.2" stroke="#3a3a3a" stroke-width="1.4"/><text x="1850.01" y="1786.60" class="tk" text-anchor="middle">45</text><path d="M1931.60 1754.0v-8.2" stroke="#3a3a3a" stroke-width="1.4"/><path d="M1931.60 1004.4v8.2" stroke="#3a3a3a" stroke-width="1.4"/><text x="1931.60" y="1786.60" class="tk" text-anchor="middle">50</text><path d="M1115.7 1754.00h8.2" stroke="#3a3a3a" stroke-width="1.4"/><path d="M1931.6 1754.00h-8.2" stroke="#3a3a3a" stroke-width="1.4"/><text x="1105.50" y="1763.30" class="tk" text-anchor="end">0</text><path d="M1115.7 1604.08h8.2" stroke="#3a3a3a" stroke-width="1.4"/><path d="M1931.6 1604.08h-8.2" stroke="#3a3a3a" stroke-width="1.4"/><text x="1105.50" y="1613.38" class="tk" text-anchor="end">500</text><path d="M1115.7 1454.16h8.2" stroke="#3a3a3a" stroke-width="1.4"/><path d="M1931.6 1454.16h-8.2" stroke="#3a3a3a" stroke-width="1.4"/><text x="1105.50" y="1463.46" class="tk" text-anchor="end">1000</text><path d="M1115.7 1304.24h8.2" stroke="#3a3a3a" stroke-width="1.4"/><path d="M1931.6 1304.24h-8.2" stroke="#3a3a3a" stroke-width="1.4"/><text x="1105.50" y="1313.54" class="tk" text-anchor="end">1500</text><path d="M1115.7 1154.32h8.2" stroke="#3a3a3a" stroke-width="1.4"/><path d="M1931.6 1154.32h-8.2" stroke="#3a3a3a" stroke-width="1.4"/><text x="1105.50" y="1163.62" class="tk" text-anchor="end">2000</text><path d="M1115.7 1004.40h8.2" stroke="#3a3a3a" stroke-width="1.4"/><path d="M1931.6 1004.40h-8.2" stroke="#3a3a3a" stroke-width="1.4"/><text x="1105.50" y="1013.70" class="tk" text-anchor="end">2500</text><text transform="translate(1523.65 1817.50) scale(1.03 1)" class="lb" text-anchor="middle">Rounds</text><text transform="translate(1043.00 1379.20)  rotate(-90) scale(1.04 1)" class="lb" text-anchor="middle">Throughput (kbps)</text><text x="1541.6" y="1895.6" class="sub" text-anchor="middle">d)</text><path d="M1132.02 1740.22L1148.34 1726.43L1164.65 1712.65L1180.97 1698.87L1197.29 1685.08L1213.61 1671.30L1229.93 1657.51L1246.24 1643.73L1262.56 1629.95L1278.88 1616.16L1295.20 1602.38L1311.52 1588.60L1327.83 1574.81L1344.15 1561.03L1360.47 1547.25L1376.79 1533.46L1393.11 1519.68L1409.42 1505.89L1425.74 1492.11L1442.06 1478.33L1458.38 1464.54L1474.70 1450.76L1491.01 1436.98L1507.33 1423.19L1523.65 1409.41L1539.97 1395.63L1556.29 1381.84L1572.60 1368.06L1588.92 1354.27L1605.24 1340.49L1621.56 1326.71L1637.88 1312.92L1654.19 1299.14L1670.51 1285.36L1686.83 1271.57L1703.15 1257.79L1719.47 1244.01L1735.78 1230.22L1752.10 1216.44L1768.42 1202.65L1784.74 1188.87L1801.06 1175.09L1817.37 1161.30L1833.69 1147.52L1850.01 1133.74L1866.33 1119.95L1882.65 1106.17L1898.96 1092.39L1915.28 1078.60L1931.60 1064.82" fill="none" stroke="#ff0000" stroke-width="4.5" stroke-linejoin="round"/><rect x="1126.67" y="1734.87" width="10.70" height="10.70" fill="none" stroke="#ff0000" stroke-width="4.5"/><rect x="1142.99" y="1721.08" width="10.70" height="10.70" fill="none" stroke="#ff0000" stroke-width="4.5"/><rect x="1159.30" y="1707.30" width="10.70" height="10.70" fill="none" stroke="#ff0000" stroke-width="4.5"/><rect x="1175.62" y="1693.52" width="10.70" height="10.70" fill="none" stroke="#ff0000" stroke-width="4.5"/><rect x="1191.94" y="1679.73" width="10.70" height="10.70" fill="none" stroke="#ff0000" stroke-width="4.5"/><rect x="1208.26" y="1665.95" width="10.70" height="10.70" fill="none" stroke="#ff0000" stroke-width="4.5"/><rect x="1224.58" y="1652.16" width="10.70" height="10.70" fill="none" stroke="#ff0000" stroke-width="4.5"/><rect x="1240.89" y="1638.38" width="10.70" height="10.70" fill="none" stroke="#ff0000" stroke-width="4.5"/><rect x="1257.21" y="1624.60" width="10.70" height="10.70" fill="none" stroke="#ff0000" stroke-width="4.5"/><rect x="1273.53" y="1610.81" width="10.70" height="10.70" fill="none" stroke="#ff0000" stroke-width="4.5"/><rect x="1289.85" y="1597.03" width="10.70" height="10.70" fill="none" stroke="#ff0000" stroke-width="4.5"/><rect x="1306.17" y="1583.25" width="10.70" height="10.70" fill="none" stroke="#ff0000" stroke-width="4.5"/><rect x="1322.48" y="1569.46" width="10.70" height="10.70" fill="none" stroke="#ff0000" stroke-width="4.5"/><rect x="1338.80" y="1555.68" width="10.70" height="10.70" fill="none" stroke="#ff0000" stroke-width="4.5"/><rect x="1355.12" y="1541.90" width="10.70" height="10.70" fill="none" stroke="#ff0000" stroke-width="4.5"/><rect x="1371.44" y="1528.11" width="10.70" height="10.70" fill="none" stroke="#ff0000" stroke-width="4.5"/><rect x="1387.76" y="1514.33" width="10.70" height="10.70" fill="none" stroke="#ff0000" stroke-width="4.5"/><rect x="1404.07" y="1500.54" width="10.70" height="10.70" fill="none" stroke="#ff0000" stroke-width="4.5"/><rect x="1420.39" y="1486.76" width="10.70" height="10.70" fill="none" stroke="#ff0000" stroke-width="4.5"/><rect x="1436.71" y="1472.98" width="10.70" height="10.70" fill="none" stroke="#ff0000" stroke-width="4.5"/><rect x="1453.03" y="1459.19" width="10.70" height="10.70" fill="none" stroke="#ff0000" stroke-width="4.5"/><rect x="1469.35" y="1445.41" width="10.70" height="10.70" fill="none" stroke="#ff0000" stroke-width="4.5"/><rect x="1485.66" y="1431.63" width="10.70" height="10.70" fill="none" stroke="#ff0000" stroke-width="4.5"/><rect x="1501.98" y="1417.84" width="10.70" height="10.70" fill="none" stroke="#ff0000" stroke-width="4.5"/><rect x="1518.30" y="1404.06" width="10.70" height="10.70" fill="none" stroke="#ff0000" stroke-width="4.5"/><rect x="1534.62" y="1390.28" width="10.70" height="10.70" fill="none" stroke="#ff0000" stroke-width="4.5"/><rect x="1550.94" y="1376.49" width="10.70" height="10.70" fill="none" stroke="#ff0000" stroke-width="4.5"/><rect x="1567.25" y="1362.71" width="10.70" height="10.70" fill="none" stroke="#ff0000" stroke-width="4.5"/><rect x="1583.57" y="1348.92" width="10.70" height="10.70" fill="none" stroke="#ff0000" stroke-width="4.5"/><rect x="1599.89" y="1335.14" width="10.70" height="10.70" fill="none" stroke="#ff0000" stroke-width="4.5"/><rect x="1616.21" y="1321.36" width="10.70" height="10.70" fill="none" stroke="#ff0000" stroke-width="4.5"/><rect x="1632.53" y="1307.57" width="10.70" height="10.70" fill="none" stroke="#ff0000" stroke-width="4.5"/><rect x="1648.84" y="1293.79" width="10.70" height="10.70" fill="none" stroke="#ff0000" stroke-width="4.5"/><rect x="1665.16" y="1280.01" width="10.70" height="10.70" fill="none" stroke="#ff0000" stroke-width="4.5"/><rect x="1681.48" y="1266.22" width="10.70" height="10.70" fill="none" stroke="#ff0000" stroke-width="4.5"/><rect x="1697.80" y="1252.44" width="10.70" height="10.70" fill="none" stroke="#ff0000" stroke-width="4.5"/><rect x="1714.12" y="1238.66" width="10.70" height="10.70" fill="none" stroke="#ff0000" stroke-width="4.5"/><rect x="1730.43" y="1224.87" width="10.70" height="10.70" fill="none" stroke="#ff0000" stroke-width="4.5"/><rect x="1746.75" y="1211.09" width="10.70" height="10.70" fill="none" stroke="#ff0000" stroke-width="4.5"/><rect x="1763.07" y="1197.30" width="10.70" height="10.70" fill="none" stroke="#ff0000" stroke-width="4.5"/><rect x="1779.39" y="1183.52" width="10.70" height="10.70" fill="none" stroke="#ff0000" stroke-width="4.5"/><rect x="1795.71" y="1169.74" width="10.70" height="10.70" fill="none" stroke="#ff0000" stroke-width="4.5"/><rect x="1812.02" y="1155.95" width="10.70" height="10.70" fill="none" stroke="#ff0000" stroke-width="4.5"/><rect x="1828.34" y="1142.17" width="10.70" height="10.70" fill="none" stroke="#ff0000" stroke-width="4.5"/><rect x="1844.66" y="1128.39" width="10.70" height="10.70" fill="none" stroke="#ff0000" stroke-width="4.5"/><rect x="1860.98" y="1114.60" width="10.70" height="10.70" fill="none" stroke="#ff0000" stroke-width="4.5"/><rect x="1877.30" y="1100.82" width="10.70" height="10.70" fill="none" stroke="#ff0000" stroke-width="4.5"/><rect x="1893.61" y="1087.04" width="10.70" height="10.70" fill="none" stroke="#ff0000" stroke-width="4.5"/><rect x="1909.93" y="1073.25" width="10.70" height="10.70" fill="none" stroke="#ff0000" stroke-width="4.5"/><rect x="1926.25" y="1059.47" width="10.70" height="10.70" fill="none" stroke="#ff0000" stroke-width="4.5"/><path d="M1132.02 1743.50L1148.34 1732.99L1164.65 1722.49L1180.97 1711.99L1197.29 1701.48L1213.61 1690.98L1229.93 1680.48L1246.24 1669.97L1262.56 1659.47L1278.88 1648.97L1295.20 1638.46L1311.52 1627.96L1327.83 1617.46L1344.15 1606.95L1360.47 1596.45L1376.79 1585.95L1393.11 1575.44L1409.42 1564.94L1425.74 1554.44L1442.06 1543.93L1458.38 1533.43L1474.70 1522.93L1491.01 1512.42L1507.33 1501.92L1523.65 1491.42L1539.97 1480.91L1556.29 1470.41L1572.60 1459.90L1588.92 1449.40L1605.24 1438.90L1621.56 1428.39L1637.88 1417.89L1654.19 1407.39L1670.51 1396.88L1686.83 1386.38L1703.15 1375.88L1719.47 1365.37L1735.78 1354.87L1752.10 1344.37L1768.42 1333.86L1784.74 1323.36L1801.06 1312.86L1817.37 1302.35L1833.69 1291.85L1850.01 1281.35L1866.33 1270.84L1882.65 1260.34L1898.96 1249.84L1915.28 1239.33L1931.60 1228.83" fill="none" stroke="#00ff00" stroke-width="4.5" stroke-linejoin="round"/><path d="M1132.02 1730.50L1135.43 1739.40L1144.95 1739.89L1137.53 1745.89L1140.01 1755.10L1132.02 1749.90L1124.02 1755.10L1126.50 1745.89L1119.08 1739.89L1128.61 1739.40Z" fill="#00ff00"/><path d="M1148.34 1719.99L1151.75 1728.90L1161.27 1729.39L1153.85 1735.39L1156.33 1744.60L1148.34 1739.39L1140.34 1744.60L1142.82 1735.39L1135.40 1729.39L1144.93 1728.90Z" fill="#00ff00"/><path d="M1164.65 1709.49L1168.06 1718.40L1177.59 1718.89L1170.17 1724.88L1172.65 1734.09L1164.65 1728.89L1156.66 1734.09L1159.14 1724.88L1151.72 1718.89L1161.24 1718.40Z" fill="#00ff00"/><path d="M1180.97 1698.99L1184.38 1707.89L1193.91 1708.38L1186.49 1714.38L1188.97 1723.59L1180.97 1718.39L1172.98 1723.59L1175.46 1714.38L1168.04 1708.38L1177.56 1707.89Z" fill="#00ff00"/><path d="M1197.29 1688.48L1200.70 1697.39L1210.22 1697.88L1202.81 1703.88L1205.28 1713.09L1197.29 1707.88L1189.30 1713.09L1191.77 1703.88L1184.36 1697.88L1193.88 1697.39Z" fill="#00ff00"/><path d="M1213.61 1677.98L1217.02 1686.89L1226.54 1687.38L1219.12 1693.37L1221.60 1702.58L1213.61 1697.38L1205.61 1702.58L1208.09 1693.37L1200.67 1687.38L1210.20 1686.89Z" fill="#00ff00"/><path d="M1229.93 1667.48L1233.34 1676.38L1242.86 1676.87L1235.44 1682.87L1237.92 1692.08L1229.93 1686.88L1221.93 1692.08L1224.41 1682.87L1216.99 1676.87L1226.52 1676.38Z" fill="#00ff00"/><path d="M1246.24 1656.97L1249.65 1665.88L1259.18 1666.37L1251.76 1672.37L1254.24 1681.58L1246.24 1676.37L1238.25 1681.58L1240.73 1672.37L1233.31 1666.37L1242.83 1665.88Z" fill="#00ff00"/><path d="M1262.56 1646.47L1265.97 1655.38L1275.50 1655.87L1268.08 1661.86L1270.56 1671.07L1262.56 1665.87L1254.57 1671.07L1257.05 1661.86L1249.63 1655.87L1259.15 1655.38Z" fill="#00ff00"/><path d="M1278.88 1635.97L1282.29 1644.87L1291.81 1645.36L1284.40 1651.36L1286.87 1660.57L1278.88 1655.37L1270.89 1660.57L1273.36 1651.36L1265.95 1645.36L1275.47 1644.87Z" fill="#00ff00"/><path d="M1295.20 1625.46L1298.61 1634.37L1308.13 1634.86L1300.71 1640.85L1303.19 1650.07L1295.20 1644.86L1287.20 1650.07L1289.68 1640.85L1282.26 1634.86L1291.79 1634.37Z" fill="#00ff00"/><path d="M1311.52 1614.96L1314.93 1623.87L1324.45 1624.36L1317.03 1630.35L1319.51 1639.56L1311.52 1634.36L1303.52 1639.56L1306.00 1630.35L1298.58 1624.36L1308.11 1623.87Z" fill="#00ff00"/><path d="M1327.83 1604.46L1331.24 1613.36L1340.77 1613.85L1333.35 1619.85L1335.83 1629.06L1327.83 1623.86L1319.84 1629.06L1322.32 1619.85L1314.90 1613.85L1324.42 1613.36Z" fill="#00ff00"/><path d="M1344.15 1593.95L1347.56 1602.86L1357.09 1603.35L1349.67 1609.34L1352.15 1618.56L1344.15 1613.35L1336.16 1618.56L1338.64 1609.34L1331.22 1603.35L1340.74 1602.86Z" fill="#00ff00"/><path d="M1360.47 1583.45L1363.88 1592.36L1373.40 1592.85L1365.99 1598.84L1368.46 1608.05L1360.47 1602.85L1352.48 1608.05L1354.95 1598.84L1347.54 1592.85L1357.06 1592.36Z" fill="#00ff00"/><path d="M1376.79 1572.95L1380.20 1581.85L1389.72 1582.34L1382.30 1588.34L1384.78 1597.55L1376.79 1592.35L1368.79 1597.55L1371.27 1588.34L1363.85 1582.34L1373.38 1581.85Z" fill="#00ff00"/><path d="M1393.11 1562.44L1396.52 1571.35L1406.04 1571.84L1398.62 1577.83L1401.10 1587.04L1393.11 1581.84L1385.11 1587.04L1387.59 1577.83L1380.17 1571.84L1389.70 1571.35Z" fill="#00ff00"/><path d="M1409.42 1551.94L1412.83 1560.85L1422.36 1561.34L1414.94 1567.33L1417.42 1576.54L1409.42 1571.34L1401.43 1576.54L1403.91 1567.33L1396.49 1561.34L1406.01 1560.85Z" fill="#00ff00"/><path d="M1425.74 1541.44L1429.15 1550.34L1438.68 1550.83L1431.26 1556.83L1433.74 1566.04L1425.74 1560.84L1417.75 1566.04L1420.23 1556.83L1412.81 1550.83L1422.33 1550.34Z" fill="#00ff00"/><path d="M1442.06 1530.93L1445.47 1539.84L1454.99 1540.33L1447.58 1546.32L1450.05 1555.53L1442.06 1550.33L1434.07 1555.53L1436.54 1546.32L1429.13 1540.33L1438.65 1539.84Z" fill="#00ff00"/><path d="M1458.38 1520.43L1461.79 1529.34L1471.31 1529.83L1463.89 1535.82L1466.37 1545.03L1458.38 1539.83L1450.38 1545.03L1452.86 1535.82L1445.44 1529.83L1454.97 1529.34Z" fill="#00ff00"/><path d="M1474.70 1509.93L1478.11 1518.83L1487.63 1519.32L1480.21 1525.32L1482.69 1534.53L1474.70 1529.33L1466.70 1534.53L1469.18 1525.32L1461.76 1519.32L1471.29 1518.83Z" fill="#00ff00"/><path d="M1491.01 1499.42L1494.42 1508.33L1503.95 1508.82L1496.53 1514.81L1499.01 1524.02L1491.01 1518.82L1483.02 1524.02L1485.50 1514.81L1478.08 1508.82L1487.60 1508.33Z" fill="#00ff00"/><path d="M1507.33 1488.92L1510.74 1497.83L1520.27 1498.32L1512.85 1504.31L1515.33 1513.52L1507.33 1508.32L1499.34 1513.52L1501.82 1504.31L1494.40 1498.32L1503.92 1497.83Z" fill="#00ff00"/><path d="M1523.65 1478.42L1527.06 1487.32L1536.58 1487.81L1529.17 1493.81L1531.64 1503.02L1523.65 1497.82L1515.66 1503.02L1518.13 1493.81L1510.72 1487.81L1520.24 1487.32Z" fill="#00ff00"/><path d="M1539.97 1467.91L1543.38 1476.82L1552.90 1477.31L1545.48 1483.30L1547.96 1492.51L1539.97 1487.31L1531.97 1492.51L1534.45 1483.30L1527.03 1477.31L1536.56 1476.82Z" fill="#00ff00"/><path d="M1556.29 1457.41L1559.70 1466.32L1569.22 1466.81L1561.80 1472.80L1564.28 1482.01L1556.29 1476.81L1548.29 1482.01L1550.77 1472.80L1543.35 1466.81L1552.88 1466.32Z" fill="#00ff00"/><path d="M1572.60 1446.90L1576.01 1455.81L1585.54 1456.30L1578.12 1462.30L1580.60 1471.51L1572.60 1466.30L1564.61 1471.51L1567.09 1462.30L1559.67 1456.30L1569.19 1455.81Z" fill="#00ff00"/><path d="M1588.92 1436.40L1592.33 1445.31L1601.86 1445.80L1594.44 1451.79L1596.92 1461.00L1588.92 1455.80L1580.93 1461.00L1583.41 1451.79L1575.99 1445.80L1585.51 1445.31Z" fill="#00ff00"/><path d="M1605.24 1425.90L1608.65 1434.81L1618.17 1435.30L1610.76 1441.29L1613.23 1450.50L1605.24 1445.30L1597.25 1450.50L1599.72 1441.29L1592.31 1435.30L1601.83 1434.81Z" fill="#00ff00"/><path d="M1621.56 1415.39L1624.97 1424.30L1634.49 1424.79L1627.07 1430.79L1629.55 1440.00L1621.56 1434.79L1613.56 1440.00L1616.04 1430.79L1608.62 1424.79L1618.15 1424.30Z" fill="#00ff00"/><path d="M1637.88 1404.89L1641.29 1413.80L1650.81 1414.29L1643.39 1420.28L1645.87 1429.49L1637.88 1424.29L1629.88 1429.49L1632.36 1420.28L1624.94 1414.29L1634.47 1413.80Z" fill="#00ff00"/><path d="M1654.19 1394.39L1657.60 1403.30L1667.13 1403.79L1659.71 1409.78L1662.19 1418.99L1654.19 1413.79L1646.20 1418.99L1648.68 1409.78L1641.26 1403.79L1650.78 1403.30Z" fill="#00ff00"/><path d="M1670.51 1383.88L1673.92 1392.79L1683.45 1393.28L1676.03 1399.28L1678.51 1408.49L1670.51 1403.28L1662.52 1408.49L1665.00 1399.28L1657.58 1393.28L1667.10 1392.79Z" fill="#00ff00"/><path d="M1686.83 1373.38L1690.24 1382.29L1699.76 1382.78L1692.35 1388.77L1694.82 1397.98L1686.83 1392.78L1678.84 1397.98L1681.31 1388.77L1673.90 1382.78L1683.42 1382.29Z" fill="#00ff00"/><path d="M1703.15 1362.88L1706.56 1371.79L1716.08 1372.28L1708.66 1378.27L1711.14 1387.48L1703.15 1382.28L1695.15 1387.48L1697.63 1378.27L1690.21 1372.28L1699.74 1371.79Z" fill="#00ff00"/><path d="M1719.47 1352.37L1722.88 1361.28L1732.40 1361.77L1724.98 1367.77L1727.46 1376.98L1719.47 1371.77L1711.47 1376.98L1713.95 1367.77L1706.53 1361.77L1716.06 1361.28Z" fill="#00ff00"/><path d="M1735.78 1341.87L1739.19 1350.78L1748.72 1351.27L1741.30 1357.26L1743.78 1366.47L1735.78 1361.27L1727.79 1366.47L1730.27 1357.26L1722.85 1351.27L1732.37 1350.78Z" fill="#00ff00"/><path d="M1752.10 1331.37L1755.51 1340.28L1765.04 1340.76L1757.62 1346.76L1760.10 1355.97L1752.10 1350.77L1744.11 1355.97L1746.59 1346.76L1739.17 1340.76L1748.69 1340.28Z" fill="#00ff00"/><path d="M1768.42 1320.86L1771.83 1329.77L1781.35 1330.26L1773.94 1336.26L1776.41 1345.47L1768.42 1340.26L1760.43 1345.47L1762.90 1336.26L1755.49 1330.26L1765.01 1329.77Z" fill="#00ff00"/><path d="M1784.74 1310.36L1788.15 1319.27L1797.67 1319.76L1790.25 1325.75L1792.73 1334.96L1784.74 1329.76L1776.74 1334.96L1779.22 1325.75L1771.80 1319.76L1781.33 1319.27Z" fill="#00ff00"/><path d="M1801.06 1299.86L1804.47 1308.77L1813.99 1309.25L1806.57 1315.25L1809.05 1324.46L1801.06 1319.26L1793.06 1324.46L1795.54 1315.25L1788.12 1309.25L1797.65 1308.77Z" fill="#00ff00"/><path d="M1817.37 1289.35L1820.78 1298.26L1830.31 1298.75L1822.89 1304.75L1825.37 1313.96L1817.37 1308.75L1809.38 1313.96L1811.86 1304.75L1804.44 1298.75L1813.96 1298.26Z" fill="#00ff00"/><path d="M1833.69 1278.85L1837.10 1287.76L1846.63 1288.25L1839.21 1294.24L1841.69 1303.45L1833.69 1298.25L1825.70 1303.45L1828.18 1294.24L1820.76 1288.25L1830.28 1287.76Z" fill="#00ff00"/><path d="M1850.01 1268.35L1853.42 1277.25L1862.94 1277.74L1855.53 1283.74L1858.00 1292.95L1850.01 1287.75L1842.02 1292.95L1844.49 1283.74L1837.08 1277.74L1846.60 1277.25Z" fill="#00ff00"/><path d="M1866.33 1257.84L1869.74 1266.75L1879.26 1267.24L1871.84 1273.24L1874.32 1282.45L1866.33 1277.24L1858.33 1282.45L1860.81 1273.24L1853.39 1267.24L1862.92 1266.75Z" fill="#00ff00"/><path d="M1882.65 1247.34L1886.06 1256.25L1895.58 1256.74L1888.16 1262.73L1890.64 1271.94L1882.65 1266.74L1874.65 1271.94L1877.13 1262.73L1869.71 1256.74L1879.24 1256.25Z" fill="#00ff00"/><path d="M1898.96 1236.84L1902.37 1245.74L1911.90 1246.23L1904.48 1252.23L1906.96 1261.44L1898.96 1256.24L1890.97 1261.44L1893.45 1252.23L1886.03 1246.23L1895.55 1245.74Z" fill="#00ff00"/><path d="M1915.28 1226.33L1918.69 1235.24L1928.22 1235.73L1920.80 1241.73L1923.28 1250.94L1915.28 1245.73L1907.29 1250.94L1909.77 1241.73L1902.35 1235.73L1911.87 1235.24Z" fill="#00ff00"/><path d="M1931.60 1215.83L1935.01 1224.74L1944.53 1225.23L1937.12 1231.22L1939.59 1240.43L1931.60 1235.23L1923.61 1240.43L1926.08 1231.22L1918.67 1225.23L1928.19 1224.74Z" fill="#00ff00"/><path d="M1132.02 1744.14L1148.34 1734.27L1164.65 1724.41L1180.97 1714.54L1197.29 1704.68L1213.61 1694.81L1229.93 1684.95L1246.24 1675.08L1262.56 1665.22L1278.88 1655.35L1295.20 1645.49L1311.52 1635.62L1327.83 1625.76L1344.15 1615.89L1360.47 1606.03L1376.79 1596.16L1393.11 1586.30L1409.42 1576.43L1425.74 1566.57L1442.06 1556.71L1458.38 1546.84L1474.70 1536.98L1491.01 1527.11L1507.33 1517.25L1523.65 1507.38L1539.97 1497.52L1556.29 1487.65L1572.60 1477.79L1588.92 1467.92L1605.24 1458.06L1621.56 1448.19L1637.88 1438.33L1654.19 1428.46L1670.51 1418.60L1686.83 1408.73L1703.15 1398.87L1719.47 1389.00L1735.78 1379.14L1752.10 1369.28L1768.42 1359.41L1784.74 1349.55L1801.06 1339.68L1817.37 1329.82L1833.69 1319.95L1850.01 1310.09L1866.33 1300.22L1882.65 1290.36L1898.96 1280.49L1915.28 1270.63L1931.60 1260.76" fill="none" stroke="#0000ff" stroke-width="4.5" stroke-linejoin="round"/><path d="M1132.02 1735.24L1138.97 1744.14L1132.02 1753.04L1125.07 1744.14Z" fill="none" stroke="#0000ff" stroke-width="4.5" stroke-miterlimit="10"/><path d="M1148.34 1725.37L1155.29 1734.27L1148.34 1743.17L1141.39 1734.27Z" fill="none" stroke="#0000ff" stroke-width="4.5" stroke-miterlimit="10"/><path d="M1164.65 1715.51L1171.60 1724.41L1164.65 1733.31L1157.70 1724.41Z" fill="none" stroke="#0000ff" stroke-width="4.5" stroke-miterlimit="10"/><path d="M1180.97 1705.64L1187.92 1714.54L1180.97 1723.44L1174.02 1714.54Z" fill="none" stroke="#0000ff" stroke-width="4.5" stroke-miterlimit="10"/><path d="M1197.29 1695.78L1204.24 1704.68L1197.29 1713.58L1190.34 1704.68Z" fill="none" stroke="#0000ff" stroke-width="4.5" stroke-miterlimit="10"/><path d="M1213.61 1685.91L1220.56 1694.81L1213.61 1703.71L1206.66 1694.81Z" fill="none" stroke="#0000ff" stroke-width="4.5" stroke-miterlimit="10"/><path d="M1229.93 1676.05L1236.88 1684.95L1229.93 1693.85L1222.98 1684.95Z" fill="none" stroke="#0000ff" stroke-width="4.5" stroke-miterlimit="10"/><path d="M1246.24 1666.18L1253.19 1675.08L1246.24 1683.98L1239.29 1675.08Z" fill="none" stroke="#0000ff" stroke-width="4.5" stroke-miterlimit="10"/><path d="M1262.56 1656.32L1269.51 1665.22L1262.56 1674.12L1255.61 1665.22Z" fill="none" stroke="#0000ff" stroke-width="4.5" stroke-miterlimit="10"/><path d="M1278.88 1646.45L1285.83 1655.35L1278.88 1664.25L1271.93 1655.35Z" fill="none" stroke="#0000ff" stroke-width="4.5" stroke-miterlimit="10"/><path d="M1295.20 1636.59L1302.15 1645.49L1295.20 1654.39L1288.25 1645.49Z" fill="none" stroke="#0000ff" stroke-width="4.5" stroke-miterlimit="10"/><path d="M1311.52 1626.72L1318.47 1635.62L1311.52 1644.52L1304.57 1635.62Z" fill="none" stroke="#0000ff" stroke-width="4.5" stroke-miterlimit="10"/><path d="M1327.83 1616.86L1334.78 1625.76L1327.83 1634.66L1320.88 1625.76Z" fill="none" stroke="#0000ff" stroke-width="4.5" stroke-miterlimit="10"/><path d="M1344.15 1606.99L1351.10 1615.89L1344.15 1624.79L1337.20 1615.89Z" fill="none" stroke="#0000ff" stroke-width="4.5" stroke-miterlimit="10"/><path d="M1360.47 1597.13L1367.42 1606.03L1360.47 1614.93L1353.52 1606.03Z" fill="none" stroke="#0000ff" stroke-width="4.5" stroke-miterlimit="10"/><path d="M1376.79 1587.26L1383.74 1596.16L1376.79 1605.06L1369.84 1596.16Z" fill="none" stroke="#0000ff" stroke-width="4.5" stroke-miterlimit="10"/><path d="M1393.11 1577.40L1400.06 1586.30L1393.11 1595.20L1386.16 1586.30Z" fill="none" stroke="#0000ff" stroke-width="4.5" stroke-miterlimit="10"/><path d="M1409.42 1567.53L1416.37 1576.43L1409.42 1585.33L1402.47 1576.43Z" fill="none" stroke="#0000ff" stroke-width="4.5" stroke-miterlimit="10"/><path d="M1425.74 1557.67L1432.69 1566.57L1425.74 1575.47L1418.79 1566.57Z" fill="none" stroke="#0000ff" stroke-width="4.5" stroke-miterlimit="10"/><path d="M1442.06 1547.81L1449.01 1556.71L1442.06 1565.61L1435.11 1556.71Z" fill="none" stroke="#0000ff" stroke-width="4.5" stroke-miterlimit="10"/><path d="M1458.38 1537.94L1465.33 1546.84L1458.38 1555.74L1451.43 1546.84Z" fill="none" stroke="#0000ff" stroke-width="4.5" stroke-miterlimit="10"/><path d="M1474.70 1528.08L1481.65 1536.98L1474.70 1545.88L1467.75 1536.98Z" fill="none" stroke="#0000ff" stroke-width="4.5" stroke-miterlimit="10"/><path d="M1491.01 1518.21L1497.96 1527.11L1491.01 1536.01L1484.06 1527.11Z" fill="none" stroke="#0000ff" stroke-width="4.5" stroke-miterlimit="10"/><path d="M1507.33 1508.35L1514.28 1517.25L1507.33 1526.15L1500.38 1517.25Z" fill="none" stroke="#0000ff" stroke-width="4.5" stroke-miterlimit="10"/><path d="M1523.65 1498.48L1530.60 1507.38L1523.65 1516.28L1516.70 1507.38Z" fill="none" stroke="#0000ff" stroke-width="4.5" stroke-miterlimit="10"/><path d="M1539.97 1488.62L1546.92 1497.52L1539.97 1506.42L1533.02 1497.52Z" fill="none" stroke="#0000ff" stroke-width="4.5" stroke-miterlimit="10"/><path d="M1556.29 1478.75L1563.24 1487.65L1556.29 1496.55L1549.34 1487.65Z" fill="none" stroke="#0000ff" stroke-width="4.5" stroke-miterlimit="10"/><path d="M1572.60 1468.89L1579.55 1477.79L1572.60 1486.69L1565.65 1477.79Z" fill="none" stroke="#0000ff" stroke-width="4.5" stroke-miterlimit="10"/><path d="M1588.92 1459.02L1595.87 1467.92L1588.92 1476.82L1581.97 1467.92Z" fill="none" stroke="#0000ff" stroke-width="4.5" stroke-miterlimit="10"/><path d="M1605.24 1449.16L1612.19 1458.06L1605.24 1466.96L1598.29 1458.06Z" fill="none" stroke="#0000ff" stroke-width="4.5" stroke-miterlimit="10"/><path d="M1621.56 1439.29L1628.51 1448.19L1621.56 1457.09L1614.61 1448.19Z" fill="none" stroke="#0000ff" stroke-width="4.5" stroke-miterlimit="10"/><path d="M1637.88 1429.43L1644.83 1438.33L1637.88 1447.23L1630.93 1438.33Z" fill="none" stroke="#0000ff" stroke-width="4.5" stroke-miterlimit="10"/><path d="M1654.19 1419.56L1661.14 1428.46L1654.19 1437.36L1647.24 1428.46Z" fill="none" stroke="#0000ff" stroke-width="4.5" stroke-miterlimit="10"/><path d="M1670.51 1409.70L1677.46 1418.60L1670.51 1427.50L1663.56 1418.60Z" fill="none" stroke="#0000ff" stroke-width="4.5" stroke-miterlimit="10"/><path d="M1686.83 1399.83L1693.78 1408.73L1686.83 1417.63L1679.88 1408.73Z" fill="none" stroke="#0000ff" stroke-width="4.5" stroke-miterlimit="10"/><path d="M1703.15 1389.97L1710.10 1398.87L1703.15 1407.77L1696.20 1398.87Z" fill="none" stroke="#0000ff" stroke-width="4.5" stroke-miterlimit="10"/><path d="M1719.47 1380.10L1726.42 1389.00L1719.47 1397.90L1712.52 1389.00Z" fill="none" stroke="#0000ff" stroke-width="4.5" stroke-miterlimit="10"/><path d="M1735.78 1370.24L1742.73 1379.14L1735.78 1388.04L1728.83 1379.14Z" fill="none" stroke="#0000ff" stroke-width="4.5" stroke-miterlimit="10"/><path d="M1752.10 1360.38L1759.05 1369.28L1752.10 1378.18L1745.15 1369.28Z" fill="none" stroke="#0000ff" stroke-width="4.5" stroke-miterlimit="10"/><path d="M1768.42 1350.51L1775.37 1359.41L1768.42 1368.31L1761.47 1359.41Z" fill="none" stroke="#0000ff" stroke-width="4.5" stroke-miterlimit="10"/><path d="M1784.74 1340.65L1791.69 1349.55L1784.74 1358.45L1777.79 1349.55Z" fill="none" stroke="#0000ff" stroke-width="4.5" stroke-miterlimit="10"/><path d="M1801.06 1330.78L1808.01 1339.68L1801.06 1348.58L1794.11 1339.68Z" fill="none" stroke="#0000ff" stroke-width="4.5" stroke-miterlimit="10"/><path d="M1817.37 1320.92L1824.32 1329.82L1817.37 1338.72L1810.42 1329.82Z" fill="none" stroke="#0000ff" stroke-width="4.5" stroke-miterlimit="10"/><path d="M1833.69 1311.05L1840.64 1319.95L1833.69 1328.85L1826.74 1319.95Z" fill="none" stroke="#0000ff" stroke-width="4.5" stroke-miterlimit="10"/><path d="M1850.01 1301.19L1856.96 1310.09L1850.01 1318.99L1843.06 1310.09Z" fill="none" stroke="#0000ff" stroke-width="4.5" stroke-miterlimit="10"/><path d="M1866.33 1291.32L1873.28 1300.22L1866.33 1309.12L1859.38 1300.22Z" fill="none" stroke="#0000ff" stroke-width="4.5" stroke-miterlimit="10"/><path d="M1882.65 1281.46L1889.60 1290.36L1882.65 1299.26L1875.70 1290.36Z" fill="none" stroke="#0000ff" stroke-width="4.5" stroke-miterlimit="10"/><path d="M1898.96 1271.59L1905.91 1280.49L1898.96 1289.39L1892.01 1280.49Z" fill="none" stroke="#0000ff" stroke-width="4.5" stroke-miterlimit="10"/><path d="M1915.28 1261.73L1922.23 1270.63L1915.28 1279.53L1908.33 1270.63Z" fill="none" stroke="#0000ff" stroke-width="4.5" stroke-miterlimit="10"/><path d="M1931.60 1251.86L1938.55 1260.76L1931.60 1269.66L1924.65 1260.76Z" fill="none" stroke="#0000ff" stroke-width="4.5" stroke-miterlimit="10"/><path d="M1132.02 1745.00L1148.34 1736.01L1164.65 1727.01L1180.97 1718.02L1197.29 1709.02L1213.61 1700.03L1229.93 1691.03L1246.24 1682.04L1262.56 1673.04L1278.88 1664.05L1295.20 1655.05L1311.52 1646.06L1327.83 1637.06L1344.15 1628.07L1360.47 1619.07L1376.79 1610.08L1393.11 1601.08L1409.42 1592.09L1425.74 1583.09L1442.06 1574.10L1458.38 1565.10L1474.70 1556.11L1491.01 1547.11L1507.33 1538.12L1523.65 1529.12L1539.97 1520.12L1556.29 1511.13L1572.60 1502.13L1588.92 1493.14L1605.24 1484.14L1621.56 1475.15L1637.88 1466.15L1654.19 1457.16L1670.51 1448.16L1686.83 1439.17L1703.15 1430.17L1719.47 1421.18L1735.78 1412.18L1752.10 1403.19L1768.42 1394.19L1784.74 1385.20L1801.06 1376.20L1817.37 1367.21L1833.69 1358.21L1850.01 1349.22L1866.33 1340.22L1882.65 1331.23L1898.96 1322.23L1915.28 1313.24L1931.60 1304.24" fill="none" stroke="#00ffff" stroke-width="4.5" stroke-linejoin="round"/><circle cx="1132.02" cy="1745.00" r="7" fill="#00ffff"/><circle cx="1148.34" cy="1736.01" r="7" fill="#00ffff"/><circle cx="1164.65" cy="1727.01" r="7" fill="#00ffff"/><circle cx="1180.97" cy="1718.02" r="7" fill="#00ffff"/><circle cx="1197.29" cy="1709.02" r="7" fill="#00ffff"/><circle cx="1213.61" cy="1700.03" r="7" fill="#00ffff"/><circle cx="1229.93" cy="1691.03" r="7" fill="#00ffff"/><circle cx="1246.24" cy="1682.04" r="7" fill="#00ffff"/><circle cx="1262.56" cy="1673.04" r="7" fill="#00ffff"/><circle cx="1278.88" cy="1664.05" r="7" fill="#00ffff"/><circle cx="1295.20" cy="1655.05" r="7" fill="#00ffff"/><circle cx="1311.52" cy="1646.06" r="7" fill="#00ffff"/><circle cx="1327.83" cy="1637.06" r="7" fill="#00ffff"/><circle cx="1344.15" cy="1628.07" r="7" fill="#00ffff"/><circle cx="1360.47" cy="1619.07" r="7" fill="#00ffff"/><circle cx="1376.79" cy="1610.08" r="7" fill="#00ffff"/><circle cx="1393.11" cy="1601.08" r="7" fill="#00ffff"/><circle cx="1409.42" cy="1592.09" r="7" fill="#00ffff"/><circle cx="1425.74" cy="1583.09" r="7" fill="#00ffff"/><circle cx="1442.06" cy="1574.10" r="7" fill="#00ffff"/><circle cx="1458.38" cy="1565.10" r="7" fill="#00ffff"/><circle cx="1474.70" cy="1556.11" r="7" fill="#00ffff"/><circle cx="1491.01" cy="1547.11" r="7" fill="#00ffff"/><circle cx="1507.33" cy="1538.12" r="7" fill="#00ffff"/><circle cx="1523.65" cy="1529.12" r="7" fill="#00ffff"/><circle cx="1539.97" cy="1520.12" r="7" fill="#00ffff"/><circle cx="1556.29" cy="1511.13" r="7" fill="#00ffff"/><circle cx="1572.60" cy="1502.13" r="7" fill="#00ffff"/><circle cx="1588.92" cy="1493.14" r="7" fill="#00ffff"/><circle cx="1605.24" cy="1484.14" r="7" fill="#00ffff"/><circle cx="1621.56" cy="1475.15" r="7" fill="#00ffff"/><circle cx="1637.88" cy="1466.15" r="7" fill="#00ffff"/><circle cx="1654.19" cy="1457.16" r="7" fill="#00ffff"/><circle cx="1670.51" cy="1448.16" r="7" fill="#00ffff"/><circle cx="1686.83" cy="1439.17" r="7" fill="#00ffff"/><circle cx="1703.15" cy="1430.17" r="7" fill="#00ffff"/><circle cx="1719.47" cy="1421.18" r="7" fill="#00ffff"/><circle cx="1735.78" cy="1412.18" r="7" fill="#00ffff"/><circle cx="1752.10" cy="1403.19" r="7" fill="#00ffff"/><circle cx="1768.42" cy="1394.19" r="7" fill="#00ffff"/><circle cx="1784.74" cy="1385.20" r="7" fill="#00ffff"/><circle cx="1801.06" cy="1376.20" r="7" fill="#00ffff"/><circle cx="1817.37" cy="1367.21" r="7" fill="#00ffff"/><circle cx="1833.69" cy="1358.21" r="7" fill="#00ffff"/><circle cx="1850.01" cy="1349.22" r="7" fill="#00ffff"/><circle cx="1866.33" cy="1340.22" r="7" fill="#00ffff"/><circle cx="1882.65" cy="1331.23" r="7" fill="#00ffff"/><circle cx="1898.96" cy="1322.23" r="7" fill="#00ffff"/><circle cx="1915.28" cy="1313.24" r="7" fill="#00ffff"/><circle cx="1931.60" cy="1304.24" r="7" fill="#00ffff"/><rect x="1479.6" y="1607.0" width="433.8" height="129" fill="#fff" stroke="#3a3a3a" stroke-width="1.5"/><path d="M1486.80 1625.70H1555.30" stroke="#ff0000" stroke-width="4.5"/><rect x="1515.65" y="1620.35" width="10.70" height="10.70" fill="none" stroke="#ff0000" stroke-width="4.5"/><text transform="translate(1561.60 1635.00) scale(1.048 1)" class="lg">Seline Trustworthy-TSP routing</text><path d="M1486.80 1656.40H1555.30" stroke="#00ff00" stroke-width="4.5"/><path d="M1521.00 1643.40L1524.41 1652.31L1533.93 1652.80L1526.52 1658.79L1528.99 1668.00L1521.00 1662.80L1513.01 1668.00L1515.48 1658.79L1508.07 1652.80L1517.59 1652.31Z" fill="#00ff00"/><text transform="translate(1561.60 1665.70) scale(1.048 1)" class="lg">ACO-TSP routing</text><path d="M1486.80 1687.10H1555.30" stroke="#0000ff" stroke-width="4.5"/><path d="M1521.00 1678.20L1527.95 1687.10L1521.00 1696.00L1514.05 1687.10Z" fill="none" stroke="#0000ff" stroke-width="4.5" stroke-miterlimit="10"/><text transform="translate(1561.60 1696.40) scale(1.048 1)" class="lg">ABC-TSP routing</text><path d="M1486.80 1717.80H1555.30" stroke="#00ffff" stroke-width="4.5"/><circle cx="1521.00" cy="1717.80" r="7" fill="#00ffff"/><text transform="translate(1561.60 1727.10) scale(1.048 1)" class="lg">PSO-TSP routing</text></g>
</svg>
</body></html>
